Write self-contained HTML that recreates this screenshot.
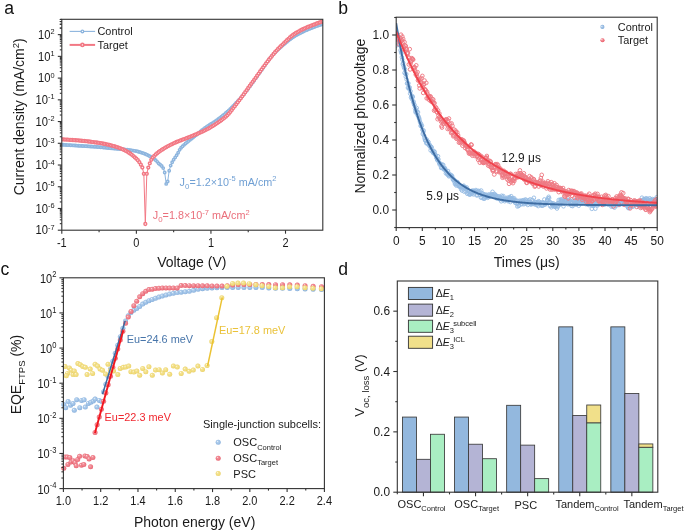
<!DOCTYPE html>
<html><head><meta charset="utf-8"><style>
html,body{margin:0;padding:0;background:#fff;}
svg{display:block;font-family:"Liberation Sans", sans-serif;will-change:transform;filter:blur(0.3px);}
</style></head><body>
<svg width="685" height="530" viewBox="0 0 685 530">
<rect width="685" height="530" fill="#fff"/>
<defs>
<clipPath id="clipA"><rect x="61.8" y="19.3" width="261.0" height="210.89999999999998"/></clipPath>
<clipPath id="clipB"><rect x="396.2" y="17.2" width="261.00000000000006" height="210.4"/></clipPath>
<clipPath id="clipC"><rect x="63.4" y="277.8" width="261.0" height="210.8"/></clipPath>
<clipPath id="clipC2"><rect x="60.4" y="277.8" width="264.0" height="210.8"/></clipPath>
<radialGradient id="gB" cx="0.5" cy="0.5" r="0.55" fx="0.33" fy="0.3"><stop offset="0" stop-color="#F4F8FD"/><stop offset="0.28" stop-color="#B2CFEC"/><stop offset="0.75" stop-color="#98BDE5"/><stop offset="1" stop-color="#7FA8D6"/></radialGradient>
<radialGradient id="gR" cx="0.5" cy="0.5" r="0.55" fx="0.33" fy="0.3"><stop offset="0" stop-color="#FDF0F1"/><stop offset="0.28" stop-color="#F2949D"/><stop offset="0.75" stop-color="#EE7682"/><stop offset="1" stop-color="#E25C69"/></radialGradient>
<radialGradient id="gBb" cx="0.5" cy="0.5" r="0.55" fx="0.3" fy="0.3"><stop offset="0" stop-color="#EEF4FB"/><stop offset="0.4" stop-color="#A6C6E8"/><stop offset="1" stop-color="#7EA8D6"/></radialGradient>
<radialGradient id="gRb" cx="0.5" cy="0.5" r="0.55" fx="0.3" fy="0.3"><stop offset="0" stop-color="#FCE6E8"/><stop offset="0.4" stop-color="#F28C95"/><stop offset="1" stop-color="#E9505D"/></radialGradient>
<radialGradient id="gY" cx="0.5" cy="0.5" r="0.55" fx="0.33" fy="0.3"><stop offset="0" stop-color="#FEFBEA"/><stop offset="0.28" stop-color="#F4E396"/><stop offset="0.75" stop-color="#F0DA78"/><stop offset="1" stop-color="#E5CA58"/></radialGradient>
</defs>
<g clip-path="url(#clipA)">
<path d="M61.8,144.7 L63.29,144.79 L64.78,144.88 L66.27,144.97 L67.77,145.06 L69.26,145.15 L70.75,145.24 L72.24,145.33 L73.73,145.42 L75.22,145.52 L76.71,145.61 L78.21,145.71 L79.7,145.8 L81.19,145.89 L82.68,145.99 L84.17,146.08 L85.66,146.17 L87.15,146.26 L88.65,146.35 L90.14,146.45 L91.63,146.54 L93.12,146.64 L94.61,146.74 L96.1,146.85 L97.59,146.96 L99.08,147.07 L100.58,147.2 L102.07,147.33 L103.56,147.48 L105.05,147.63 L106.54,147.79 L108.03,147.95 L109.52,148.1 L111.02,148.25 L112.51,148.39 L114,148.52 L115.49,148.65 L116.98,148.77 L118.47,148.89 L119.96,149.01 L121.46,149.14 L122.95,149.28 L124.44,149.44 L125.93,149.59 L127.42,149.75 L128.91,149.93 L130.4,150.12 L131.9,150.33 L133.39,150.56 L134.88,150.84 L136.37,151.16 L137.86,151.54 L139.35,151.95 L140.84,152.39 L142.34,152.88 L143.83,153.42 L145.32,154.03 L146.81,154.69 L148.3,155.4 L149.79,156.16 L151.28,156.98 L152.78,157.89 L154.27,158.93 L155.76,160.19 L157.25,161.83 L158.74,163.45 L160.23,164.69 L161.72,166.03 L163.22,168.12 L164.71,172.5 L166.2,183.9 L167.69,181.5 L169.18,170.7 L170.67,165.58 L172.16,162.27 L173.65,159.69 L175.15,157.44 L176.64,155.22 L178.13,152.72 L179.62,149.81 L181.11,147.76 L182.6,146.2 L184.09,144.85 L185.59,143.53 L187.08,142.23 L188.57,141 L190.06,139.8 L191.55,138.64 L193.04,137.49 L194.53,136.32 L196.03,135.14 L197.52,133.92 L199.01,132.69 L200.5,131.46 L201.99,130.25 L203.48,129.06 L204.97,127.92 L206.47,126.84 L207.96,125.84 L209.45,124.89 L210.94,123.97 L212.43,123.06 L213.92,122.13 L215.41,121.15 L216.91,120.11 L218.4,119.02 L219.89,117.89 L221.38,116.73 L222.87,115.53 L224.36,114.3 L225.85,113.02 L227.35,111.7 L228.84,110.32 L230.33,108.88 L231.82,107.39 L233.31,105.87 L234.8,104.32 L236.29,102.75 L237.79,101.18 L239.28,99.6 L240.77,97.97 L242.26,96.27 L243.75,94.46 L245.24,92.58 L246.73,90.63 L248.22,88.63 L249.72,86.61 L251.21,84.58 L252.7,82.54 L254.19,80.47 L255.68,78.37 L257.17,76.24 L258.66,74.11 L260.16,71.99 L261.65,69.9 L263.14,67.84 L264.63,65.73 L266.12,63.61 L267.61,61.51 L269.1,59.47 L270.6,57.52 L272.09,55.7 L273.58,54.03 L275.07,52.45 L276.56,50.95 L278.05,49.51 L279.54,48.13 L281.04,46.8 L282.53,45.49 L284.02,44.21 L285.51,42.95 L287,41.72 L288.49,40.53 L289.98,39.39 L291.48,38.3 L292.97,37.28 L294.46,36.33 L295.95,35.43 L297.44,34.57 L298.93,33.75 L300.42,32.96 L301.92,32.21 L303.41,31.49 L304.9,30.79 L306.39,30.13 L307.88,29.49 L309.37,28.88 L310.86,28.28 L312.36,27.7 L313.85,27.13 L315.34,26.57 L316.83,26.03 L318.32,25.5 L319.81,24.99 L321.3,24.49 L322.8,24" fill="none" stroke="#8DB5DE" stroke-width="1.0"/>
<g fill="#fff" stroke="#8DB5DE" stroke-width="1.45">
<circle cx="61.8" cy="144.7" r="1.2"/>
<circle cx="63.29" cy="144.79" r="1.2"/>
<circle cx="64.78" cy="144.88" r="1.2"/>
<circle cx="66.27" cy="144.97" r="1.2"/>
<circle cx="67.77" cy="145.06" r="1.2"/>
<circle cx="69.26" cy="145.15" r="1.2"/>
<circle cx="70.75" cy="145.24" r="1.2"/>
<circle cx="72.24" cy="145.33" r="1.2"/>
<circle cx="73.73" cy="145.42" r="1.2"/>
<circle cx="75.22" cy="145.52" r="1.2"/>
<circle cx="76.71" cy="145.61" r="1.2"/>
<circle cx="78.21" cy="145.71" r="1.2"/>
<circle cx="79.7" cy="145.8" r="1.2"/>
<circle cx="81.19" cy="145.89" r="1.2"/>
<circle cx="82.68" cy="145.99" r="1.2"/>
<circle cx="84.17" cy="146.08" r="1.2"/>
<circle cx="85.66" cy="146.17" r="1.2"/>
<circle cx="87.15" cy="146.26" r="1.2"/>
<circle cx="88.65" cy="146.35" r="1.2"/>
<circle cx="90.14" cy="146.45" r="1.2"/>
<circle cx="91.63" cy="146.54" r="1.2"/>
<circle cx="93.12" cy="146.64" r="1.2"/>
<circle cx="94.61" cy="146.74" r="1.2"/>
<circle cx="96.1" cy="146.85" r="1.2"/>
<circle cx="97.59" cy="146.96" r="1.2"/>
<circle cx="99.08" cy="147.07" r="1.2"/>
<circle cx="100.58" cy="147.2" r="1.2"/>
<circle cx="102.07" cy="147.33" r="1.2"/>
<circle cx="103.56" cy="147.48" r="1.2"/>
<circle cx="105.05" cy="147.63" r="1.2"/>
<circle cx="106.54" cy="147.79" r="1.2"/>
<circle cx="108.03" cy="147.95" r="1.2"/>
<circle cx="109.52" cy="148.1" r="1.2"/>
<circle cx="111.02" cy="148.25" r="1.2"/>
<circle cx="112.51" cy="148.39" r="1.2"/>
<circle cx="114" cy="148.52" r="1.2"/>
<circle cx="115.49" cy="148.65" r="1.2"/>
<circle cx="116.98" cy="148.77" r="1.2"/>
<circle cx="118.47" cy="148.89" r="1.2"/>
<circle cx="119.96" cy="149.01" r="1.2"/>
<circle cx="121.46" cy="149.14" r="1.2"/>
<circle cx="122.95" cy="149.28" r="1.2"/>
<circle cx="124.44" cy="149.44" r="1.2"/>
<circle cx="125.93" cy="149.59" r="1.2"/>
<circle cx="127.42" cy="149.75" r="1.2"/>
<circle cx="128.91" cy="149.93" r="1.2"/>
<circle cx="130.4" cy="150.12" r="1.2"/>
<circle cx="131.9" cy="150.33" r="1.2"/>
<circle cx="133.39" cy="150.56" r="1.2"/>
<circle cx="134.88" cy="150.84" r="1.2"/>
<circle cx="136.37" cy="151.16" r="1.2"/>
<circle cx="137.86" cy="151.54" r="1.2"/>
<circle cx="139.35" cy="151.95" r="1.2"/>
<circle cx="140.84" cy="152.39" r="1.2"/>
<circle cx="142.34" cy="152.88" r="1.2"/>
<circle cx="143.83" cy="153.42" r="1.2"/>
<circle cx="145.32" cy="154.03" r="1.2"/>
<circle cx="146.81" cy="154.69" r="1.2"/>
<circle cx="148.3" cy="155.4" r="1.2"/>
<circle cx="149.79" cy="156.16" r="1.2"/>
<circle cx="151.28" cy="156.98" r="1.2"/>
<circle cx="152.78" cy="157.89" r="1.2"/>
<circle cx="154.27" cy="158.93" r="1.2"/>
<circle cx="155.76" cy="160.19" r="1.2"/>
<circle cx="157.25" cy="161.83" r="1.2"/>
<circle cx="158.74" cy="163.45" r="1.2"/>
<circle cx="160.23" cy="164.69" r="1.2"/>
<circle cx="161.72" cy="166.03" r="1.2"/>
<circle cx="163.22" cy="168.12" r="1.2"/>
<circle cx="164.71" cy="172.5" r="1.2"/>
<circle cx="166.2" cy="183.9" r="1.2"/>
<circle cx="167.69" cy="181.5" r="1.2"/>
<circle cx="169.18" cy="170.7" r="1.2"/>
<circle cx="170.67" cy="165.58" r="1.2"/>
<circle cx="172.16" cy="162.27" r="1.2"/>
<circle cx="173.65" cy="159.69" r="1.2"/>
<circle cx="175.15" cy="157.44" r="1.2"/>
<circle cx="176.64" cy="155.22" r="1.2"/>
<circle cx="178.13" cy="152.72" r="1.2"/>
<circle cx="179.62" cy="149.81" r="1.2"/>
<circle cx="181.11" cy="147.76" r="1.2"/>
<circle cx="182.6" cy="146.2" r="1.2"/>
<circle cx="184.09" cy="144.85" r="1.2"/>
<circle cx="185.59" cy="143.53" r="1.2"/>
<circle cx="187.08" cy="142.23" r="1.2"/>
<circle cx="188.57" cy="141" r="1.2"/>
<circle cx="190.06" cy="139.8" r="1.2"/>
<circle cx="191.55" cy="138.64" r="1.2"/>
<circle cx="193.04" cy="137.49" r="1.2"/>
<circle cx="194.53" cy="136.32" r="1.2"/>
<circle cx="196.03" cy="135.14" r="1.2"/>
<circle cx="197.52" cy="133.92" r="1.2"/>
<circle cx="199.01" cy="132.69" r="1.2"/>
<circle cx="200.5" cy="131.46" r="1.2"/>
<circle cx="201.99" cy="130.25" r="1.2"/>
<circle cx="203.48" cy="129.06" r="1.2"/>
<circle cx="204.97" cy="127.92" r="1.2"/>
<circle cx="206.47" cy="126.84" r="1.2"/>
<circle cx="207.96" cy="125.84" r="1.2"/>
<circle cx="209.45" cy="124.89" r="1.2"/>
<circle cx="210.94" cy="123.97" r="1.2"/>
<circle cx="212.43" cy="123.06" r="1.2"/>
<circle cx="213.92" cy="122.13" r="1.2"/>
<circle cx="215.41" cy="121.15" r="1.2"/>
<circle cx="216.91" cy="120.11" r="1.2"/>
<circle cx="218.4" cy="119.02" r="1.2"/>
<circle cx="219.89" cy="117.89" r="1.2"/>
<circle cx="221.38" cy="116.73" r="1.2"/>
<circle cx="222.87" cy="115.53" r="1.2"/>
<circle cx="224.36" cy="114.3" r="1.2"/>
<circle cx="225.85" cy="113.02" r="1.2"/>
<circle cx="227.35" cy="111.7" r="1.2"/>
<circle cx="228.84" cy="110.32" r="1.2"/>
<circle cx="230.33" cy="108.88" r="1.2"/>
<circle cx="231.82" cy="107.39" r="1.2"/>
<circle cx="233.31" cy="105.87" r="1.2"/>
<circle cx="234.8" cy="104.32" r="1.2"/>
<circle cx="236.29" cy="102.75" r="1.2"/>
<circle cx="237.79" cy="101.18" r="1.2"/>
<circle cx="239.28" cy="99.6" r="1.2"/>
<circle cx="240.77" cy="97.97" r="1.2"/>
<circle cx="242.26" cy="96.27" r="1.2"/>
<circle cx="243.75" cy="94.46" r="1.2"/>
<circle cx="245.24" cy="92.58" r="1.2"/>
<circle cx="246.73" cy="90.63" r="1.2"/>
<circle cx="248.22" cy="88.63" r="1.2"/>
<circle cx="249.72" cy="86.61" r="1.2"/>
<circle cx="251.21" cy="84.58" r="1.2"/>
<circle cx="252.7" cy="82.54" r="1.2"/>
<circle cx="254.19" cy="80.47" r="1.2"/>
<circle cx="255.68" cy="78.37" r="1.2"/>
<circle cx="257.17" cy="76.24" r="1.2"/>
<circle cx="258.66" cy="74.11" r="1.2"/>
<circle cx="260.16" cy="71.99" r="1.2"/>
<circle cx="261.65" cy="69.9" r="1.2"/>
<circle cx="263.14" cy="67.84" r="1.2"/>
<circle cx="264.63" cy="65.73" r="1.2"/>
<circle cx="266.12" cy="63.61" r="1.2"/>
<circle cx="267.61" cy="61.51" r="1.2"/>
<circle cx="269.1" cy="59.47" r="1.2"/>
<circle cx="270.6" cy="57.52" r="1.2"/>
<circle cx="272.09" cy="55.7" r="1.2"/>
<circle cx="273.58" cy="54.03" r="1.2"/>
<circle cx="275.07" cy="52.45" r="1.2"/>
<circle cx="276.56" cy="50.95" r="1.2"/>
<circle cx="278.05" cy="49.51" r="1.2"/>
<circle cx="279.54" cy="48.13" r="1.2"/>
<circle cx="281.04" cy="46.8" r="1.2"/>
<circle cx="282.53" cy="45.49" r="1.2"/>
<circle cx="284.02" cy="44.21" r="1.2"/>
<circle cx="285.51" cy="42.95" r="1.2"/>
<circle cx="287" cy="41.72" r="1.2"/>
<circle cx="288.49" cy="40.53" r="1.2"/>
<circle cx="289.98" cy="39.39" r="1.2"/>
<circle cx="291.48" cy="38.3" r="1.2"/>
<circle cx="292.97" cy="37.28" r="1.2"/>
<circle cx="294.46" cy="36.33" r="1.2"/>
<circle cx="295.95" cy="35.43" r="1.2"/>
<circle cx="297.44" cy="34.57" r="1.2"/>
<circle cx="298.93" cy="33.75" r="1.2"/>
<circle cx="300.42" cy="32.96" r="1.2"/>
<circle cx="301.92" cy="32.21" r="1.2"/>
<circle cx="303.41" cy="31.49" r="1.2"/>
<circle cx="304.9" cy="30.79" r="1.2"/>
<circle cx="306.39" cy="30.13" r="1.2"/>
<circle cx="307.88" cy="29.49" r="1.2"/>
<circle cx="309.37" cy="28.88" r="1.2"/>
<circle cx="310.86" cy="28.28" r="1.2"/>
<circle cx="312.36" cy="27.7" r="1.2"/>
<circle cx="313.85" cy="27.13" r="1.2"/>
<circle cx="315.34" cy="26.57" r="1.2"/>
<circle cx="316.83" cy="26.03" r="1.2"/>
<circle cx="318.32" cy="25.5" r="1.2"/>
<circle cx="319.81" cy="24.99" r="1.2"/>
<circle cx="321.3" cy="24.49" r="1.2"/>
<circle cx="322.8" cy="24" r="1.2"/>
</g>
<path d="M61.8,139.4 L63.29,139.47 L64.78,139.54 L66.27,139.62 L67.77,139.71 L69.26,139.8 L70.75,139.9 L72.24,140 L73.73,140.11 L75.22,140.23 L76.71,140.35 L78.21,140.47 L79.7,140.6 L81.19,140.73 L82.68,140.87 L84.17,141.02 L85.66,141.18 L87.15,141.34 L88.65,141.52 L90.14,141.7 L91.63,141.88 L93.12,142.08 L94.61,142.29 L96.1,142.5 L97.59,142.72 L99.08,142.95 L100.58,143.19 L102.07,143.45 L103.56,143.73 L105.05,144.02 L106.54,144.33 L108.03,144.67 L109.52,145.02 L111.02,145.39 L112.51,145.78 L114,146.19 L115.49,146.64 L116.98,147.12 L118.47,147.64 L119.96,148.2 L121.46,148.8 L122.95,149.43 L124.44,150.13 L125.93,150.93 L127.42,151.81 L128.91,152.75 L130.4,153.75 L131.9,154.87 L133.39,156.08 L134.88,157.38 L136.37,158.74 L137.86,160.27 L139.35,162.16 L140.84,164.64 L142.34,167.5 L143.83,173.8 L145.32,224 L146.81,173.8 L148.3,167.6 L149.79,163.33 L151.28,159.83 L152.78,157.61 L154.27,155.92 L155.76,154.48 L157.25,153.19 L158.74,152.02 L160.23,150.96 L161.72,149.97 L163.22,149.01 L164.71,148.09 L166.2,147.21 L167.69,146.37 L169.18,145.56 L170.67,144.78 L172.16,144.04 L173.65,143.32 L175.15,142.63 L176.64,141.99 L178.13,141.38 L179.62,140.8 L181.11,140.23 L182.6,139.67 L184.09,139.11 L185.59,138.53 L187.08,137.94 L188.57,137.36 L190.06,136.78 L191.55,136.19 L193.04,135.6 L194.53,134.99 L196.03,134.36 L197.52,133.73 L199.01,133.09 L200.5,132.44 L201.99,131.78 L203.48,131.09 L204.97,130.37 L206.47,129.61 L207.96,128.82 L209.45,127.98 L210.94,127.11 L212.43,126.21 L213.92,125.28 L215.41,124.32 L216.91,123.33 L218.4,122.33 L219.89,121.3 L221.38,120.24 L222.87,119.12 L224.36,117.93 L225.85,116.66 L227.35,115.27 L228.84,113.7 L230.33,111.95 L231.82,110.07 L233.31,108.12 L234.8,106.15 L236.29,104.19 L237.79,102.27 L239.28,100.3 L240.77,98.3 L242.26,96.28 L243.75,94.25 L245.24,92.18 L246.73,90.08 L248.22,87.99 L249.72,85.92 L251.21,83.87 L252.7,81.85 L254.19,79.83 L255.68,77.79 L257.17,75.72 L258.66,73.6 L260.16,71.47 L261.65,69.36 L263.14,67.31 L264.63,65.31 L266.12,63.35 L267.61,61.41 L269.1,59.52 L270.6,57.66 L272.09,55.82 L273.58,54.01 L275.07,52.27 L276.56,50.6 L278.05,49.02 L279.54,47.49 L281.04,46.01 L282.53,44.56 L284.02,43.12 L285.51,41.65 L287,40.2 L288.49,38.78 L289.98,37.42 L291.48,36.16 L292.97,35.01 L294.46,33.98 L295.95,33.02 L297.44,32.13 L298.93,31.28 L300.42,30.48 L301.92,29.72 L303.41,28.99 L304.9,28.29 L306.39,27.62 L307.88,26.99 L309.37,26.38 L310.86,25.79 L312.36,25.21 L313.85,24.64 L315.34,24.07 L316.83,23.51 L318.32,22.96 L319.81,22.43 L321.3,21.91 L322.8,21.4" fill="none" stroke="#F27884" stroke-width="1.0"/>
<g fill="#fff" stroke="#F27884" stroke-width="1.5">
<circle cx="61.8" cy="139.4" r="1.4"/>
<circle cx="63.29" cy="139.47" r="1.4"/>
<circle cx="64.78" cy="139.54" r="1.4"/>
<circle cx="66.27" cy="139.62" r="1.4"/>
<circle cx="67.77" cy="139.71" r="1.4"/>
<circle cx="69.26" cy="139.8" r="1.4"/>
<circle cx="70.75" cy="139.9" r="1.4"/>
<circle cx="72.24" cy="140" r="1.4"/>
<circle cx="73.73" cy="140.11" r="1.4"/>
<circle cx="75.22" cy="140.23" r="1.4"/>
<circle cx="76.71" cy="140.35" r="1.4"/>
<circle cx="78.21" cy="140.47" r="1.4"/>
<circle cx="79.7" cy="140.6" r="1.4"/>
<circle cx="81.19" cy="140.73" r="1.4"/>
<circle cx="82.68" cy="140.87" r="1.4"/>
<circle cx="84.17" cy="141.02" r="1.4"/>
<circle cx="85.66" cy="141.18" r="1.4"/>
<circle cx="87.15" cy="141.34" r="1.4"/>
<circle cx="88.65" cy="141.52" r="1.4"/>
<circle cx="90.14" cy="141.7" r="1.4"/>
<circle cx="91.63" cy="141.88" r="1.4"/>
<circle cx="93.12" cy="142.08" r="1.4"/>
<circle cx="94.61" cy="142.29" r="1.4"/>
<circle cx="96.1" cy="142.5" r="1.4"/>
<circle cx="97.59" cy="142.72" r="1.4"/>
<circle cx="99.08" cy="142.95" r="1.4"/>
<circle cx="100.58" cy="143.19" r="1.4"/>
<circle cx="102.07" cy="143.45" r="1.4"/>
<circle cx="103.56" cy="143.73" r="1.4"/>
<circle cx="105.05" cy="144.02" r="1.4"/>
<circle cx="106.54" cy="144.33" r="1.4"/>
<circle cx="108.03" cy="144.67" r="1.4"/>
<circle cx="109.52" cy="145.02" r="1.4"/>
<circle cx="111.02" cy="145.39" r="1.4"/>
<circle cx="112.51" cy="145.78" r="1.4"/>
<circle cx="114" cy="146.19" r="1.4"/>
<circle cx="115.49" cy="146.64" r="1.4"/>
<circle cx="116.98" cy="147.12" r="1.4"/>
<circle cx="118.47" cy="147.64" r="1.4"/>
<circle cx="119.96" cy="148.2" r="1.4"/>
<circle cx="121.46" cy="148.8" r="1.4"/>
<circle cx="122.95" cy="149.43" r="1.4"/>
<circle cx="124.44" cy="150.13" r="1.4"/>
<circle cx="125.93" cy="150.93" r="1.4"/>
<circle cx="127.42" cy="151.81" r="1.4"/>
<circle cx="128.91" cy="152.75" r="1.4"/>
<circle cx="130.4" cy="153.75" r="1.4"/>
<circle cx="131.9" cy="154.87" r="1.4"/>
<circle cx="133.39" cy="156.08" r="1.4"/>
<circle cx="134.88" cy="157.38" r="1.4"/>
<circle cx="136.37" cy="158.74" r="1.4"/>
<circle cx="137.86" cy="160.27" r="1.4"/>
<circle cx="139.35" cy="162.16" r="1.4"/>
<circle cx="140.84" cy="164.64" r="1.4"/>
<circle cx="142.34" cy="167.5" r="1.4"/>
<circle cx="143.83" cy="173.8" r="1.4"/>
<circle cx="145.32" cy="224" r="1.4"/>
<circle cx="146.81" cy="173.8" r="1.4"/>
<circle cx="148.3" cy="167.6" r="1.4"/>
<circle cx="149.79" cy="163.33" r="1.4"/>
<circle cx="151.28" cy="159.83" r="1.4"/>
<circle cx="152.78" cy="157.61" r="1.4"/>
<circle cx="154.27" cy="155.92" r="1.4"/>
<circle cx="155.76" cy="154.48" r="1.4"/>
<circle cx="157.25" cy="153.19" r="1.4"/>
<circle cx="158.74" cy="152.02" r="1.4"/>
<circle cx="160.23" cy="150.96" r="1.4"/>
<circle cx="161.72" cy="149.97" r="1.4"/>
<circle cx="163.22" cy="149.01" r="1.4"/>
<circle cx="164.71" cy="148.09" r="1.4"/>
<circle cx="166.2" cy="147.21" r="1.4"/>
<circle cx="167.69" cy="146.37" r="1.4"/>
<circle cx="169.18" cy="145.56" r="1.4"/>
<circle cx="170.67" cy="144.78" r="1.4"/>
<circle cx="172.16" cy="144.04" r="1.4"/>
<circle cx="173.65" cy="143.32" r="1.4"/>
<circle cx="175.15" cy="142.63" r="1.4"/>
<circle cx="176.64" cy="141.99" r="1.4"/>
<circle cx="178.13" cy="141.38" r="1.4"/>
<circle cx="179.62" cy="140.8" r="1.4"/>
<circle cx="181.11" cy="140.23" r="1.4"/>
<circle cx="182.6" cy="139.67" r="1.4"/>
<circle cx="184.09" cy="139.11" r="1.4"/>
<circle cx="185.59" cy="138.53" r="1.4"/>
<circle cx="187.08" cy="137.94" r="1.4"/>
<circle cx="188.57" cy="137.36" r="1.4"/>
<circle cx="190.06" cy="136.78" r="1.4"/>
<circle cx="191.55" cy="136.19" r="1.4"/>
<circle cx="193.04" cy="135.6" r="1.4"/>
<circle cx="194.53" cy="134.99" r="1.4"/>
<circle cx="196.03" cy="134.36" r="1.4"/>
<circle cx="197.52" cy="133.73" r="1.4"/>
<circle cx="199.01" cy="133.09" r="1.4"/>
<circle cx="200.5" cy="132.44" r="1.4"/>
<circle cx="201.99" cy="131.78" r="1.4"/>
<circle cx="203.48" cy="131.09" r="1.4"/>
<circle cx="204.97" cy="130.37" r="1.4"/>
<circle cx="206.47" cy="129.61" r="1.4"/>
<circle cx="207.96" cy="128.82" r="1.4"/>
<circle cx="209.45" cy="127.98" r="1.4"/>
<circle cx="210.94" cy="127.11" r="1.4"/>
<circle cx="212.43" cy="126.21" r="1.4"/>
<circle cx="213.92" cy="125.28" r="1.4"/>
<circle cx="215.41" cy="124.32" r="1.4"/>
<circle cx="216.91" cy="123.33" r="1.4"/>
<circle cx="218.4" cy="122.33" r="1.4"/>
<circle cx="219.89" cy="121.3" r="1.4"/>
<circle cx="221.38" cy="120.24" r="1.4"/>
<circle cx="222.87" cy="119.12" r="1.4"/>
<circle cx="224.36" cy="117.93" r="1.4"/>
<circle cx="225.85" cy="116.66" r="1.4"/>
<circle cx="227.35" cy="115.27" r="1.4"/>
<circle cx="228.84" cy="113.7" r="1.4"/>
<circle cx="230.33" cy="111.95" r="1.4"/>
<circle cx="231.82" cy="110.07" r="1.4"/>
<circle cx="233.31" cy="108.12" r="1.4"/>
<circle cx="234.8" cy="106.15" r="1.4"/>
<circle cx="236.29" cy="104.19" r="1.4"/>
<circle cx="237.79" cy="102.27" r="1.4"/>
<circle cx="239.28" cy="100.3" r="1.4"/>
<circle cx="240.77" cy="98.3" r="1.4"/>
<circle cx="242.26" cy="96.28" r="1.4"/>
<circle cx="243.75" cy="94.25" r="1.4"/>
<circle cx="245.24" cy="92.18" r="1.4"/>
<circle cx="246.73" cy="90.08" r="1.4"/>
<circle cx="248.22" cy="87.99" r="1.4"/>
<circle cx="249.72" cy="85.92" r="1.4"/>
<circle cx="251.21" cy="83.87" r="1.4"/>
<circle cx="252.7" cy="81.85" r="1.4"/>
<circle cx="254.19" cy="79.83" r="1.4"/>
<circle cx="255.68" cy="77.79" r="1.4"/>
<circle cx="257.17" cy="75.72" r="1.4"/>
<circle cx="258.66" cy="73.6" r="1.4"/>
<circle cx="260.16" cy="71.47" r="1.4"/>
<circle cx="261.65" cy="69.36" r="1.4"/>
<circle cx="263.14" cy="67.31" r="1.4"/>
<circle cx="264.63" cy="65.31" r="1.4"/>
<circle cx="266.12" cy="63.35" r="1.4"/>
<circle cx="267.61" cy="61.41" r="1.4"/>
<circle cx="269.1" cy="59.52" r="1.4"/>
<circle cx="270.6" cy="57.66" r="1.4"/>
<circle cx="272.09" cy="55.82" r="1.4"/>
<circle cx="273.58" cy="54.01" r="1.4"/>
<circle cx="275.07" cy="52.27" r="1.4"/>
<circle cx="276.56" cy="50.6" r="1.4"/>
<circle cx="278.05" cy="49.02" r="1.4"/>
<circle cx="279.54" cy="47.49" r="1.4"/>
<circle cx="281.04" cy="46.01" r="1.4"/>
<circle cx="282.53" cy="44.56" r="1.4"/>
<circle cx="284.02" cy="43.12" r="1.4"/>
<circle cx="285.51" cy="41.65" r="1.4"/>
<circle cx="287" cy="40.2" r="1.4"/>
<circle cx="288.49" cy="38.78" r="1.4"/>
<circle cx="289.98" cy="37.42" r="1.4"/>
<circle cx="291.48" cy="36.16" r="1.4"/>
<circle cx="292.97" cy="35.01" r="1.4"/>
<circle cx="294.46" cy="33.98" r="1.4"/>
<circle cx="295.95" cy="33.02" r="1.4"/>
<circle cx="297.44" cy="32.13" r="1.4"/>
<circle cx="298.93" cy="31.28" r="1.4"/>
<circle cx="300.42" cy="30.48" r="1.4"/>
<circle cx="301.92" cy="29.72" r="1.4"/>
<circle cx="303.41" cy="28.99" r="1.4"/>
<circle cx="304.9" cy="28.29" r="1.4"/>
<circle cx="306.39" cy="27.62" r="1.4"/>
<circle cx="307.88" cy="26.99" r="1.4"/>
<circle cx="309.37" cy="26.38" r="1.4"/>
<circle cx="310.86" cy="25.79" r="1.4"/>
<circle cx="312.36" cy="25.21" r="1.4"/>
<circle cx="313.85" cy="24.64" r="1.4"/>
<circle cx="315.34" cy="24.07" r="1.4"/>
<circle cx="316.83" cy="23.51" r="1.4"/>
<circle cx="318.32" cy="22.96" r="1.4"/>
<circle cx="319.81" cy="22.43" r="1.4"/>
<circle cx="321.3" cy="21.91" r="1.4"/>
<circle cx="322.8" cy="21.4" r="1.4"/>
</g>
</g>
<rect x="61.8" y="19.3" width="261" height="210.9" fill="none" stroke="#333" stroke-width="1.1"/>
<line x1="57.8" y1="230.2" x2="61.8" y2="230.2" stroke="#333" stroke-width="1.1"/>
<text transform="translate(54.6,234.35) scale(1,1.08)" font-size="11.2" text-anchor="end" fill="#1a1a1a" >10<tspan font-size="7.4" dy="-4.3">-7</tspan></text>
<line x1="59.8" y1="223.66" x2="61.8" y2="223.66" stroke="#333" stroke-width="1.1"/>
<line x1="59.8" y1="219.83" x2="61.8" y2="219.83" stroke="#333" stroke-width="1.1"/>
<line x1="59.8" y1="217.12" x2="61.8" y2="217.12" stroke="#333" stroke-width="1.1"/>
<line x1="59.8" y1="215.01" x2="61.8" y2="215.01" stroke="#333" stroke-width="1.1"/>
<line x1="59.8" y1="213.29" x2="61.8" y2="213.29" stroke="#333" stroke-width="1.1"/>
<line x1="59.8" y1="211.84" x2="61.8" y2="211.84" stroke="#333" stroke-width="1.1"/>
<line x1="59.8" y1="210.58" x2="61.8" y2="210.58" stroke="#333" stroke-width="1.1"/>
<line x1="59.8" y1="209.46" x2="61.8" y2="209.46" stroke="#333" stroke-width="1.1"/>
<line x1="57.8" y1="208.47" x2="61.8" y2="208.47" stroke="#333" stroke-width="1.1"/>
<text transform="translate(54.6,212.62) scale(1,1.08)" font-size="11.2" text-anchor="end" fill="#1a1a1a" >10<tspan font-size="7.4" dy="-4.3">-6</tspan></text>
<line x1="59.8" y1="201.93" x2="61.8" y2="201.93" stroke="#333" stroke-width="1.1"/>
<line x1="59.8" y1="198.1" x2="61.8" y2="198.1" stroke="#333" stroke-width="1.1"/>
<line x1="59.8" y1="195.39" x2="61.8" y2="195.39" stroke="#333" stroke-width="1.1"/>
<line x1="59.8" y1="193.28" x2="61.8" y2="193.28" stroke="#333" stroke-width="1.1"/>
<line x1="59.8" y1="191.56" x2="61.8" y2="191.56" stroke="#333" stroke-width="1.1"/>
<line x1="59.8" y1="190.11" x2="61.8" y2="190.11" stroke="#333" stroke-width="1.1"/>
<line x1="59.8" y1="188.85" x2="61.8" y2="188.85" stroke="#333" stroke-width="1.1"/>
<line x1="59.8" y1="187.73" x2="61.8" y2="187.73" stroke="#333" stroke-width="1.1"/>
<line x1="57.8" y1="186.74" x2="61.8" y2="186.74" stroke="#333" stroke-width="1.1"/>
<text transform="translate(54.6,190.89) scale(1,1.08)" font-size="11.2" text-anchor="end" fill="#1a1a1a" >10<tspan font-size="7.4" dy="-4.3">-5</tspan></text>
<line x1="59.8" y1="180.2" x2="61.8" y2="180.2" stroke="#333" stroke-width="1.1"/>
<line x1="59.8" y1="176.37" x2="61.8" y2="176.37" stroke="#333" stroke-width="1.1"/>
<line x1="59.8" y1="173.66" x2="61.8" y2="173.66" stroke="#333" stroke-width="1.1"/>
<line x1="59.8" y1="171.55" x2="61.8" y2="171.55" stroke="#333" stroke-width="1.1"/>
<line x1="59.8" y1="169.83" x2="61.8" y2="169.83" stroke="#333" stroke-width="1.1"/>
<line x1="59.8" y1="168.38" x2="61.8" y2="168.38" stroke="#333" stroke-width="1.1"/>
<line x1="59.8" y1="167.12" x2="61.8" y2="167.12" stroke="#333" stroke-width="1.1"/>
<line x1="59.8" y1="166" x2="61.8" y2="166" stroke="#333" stroke-width="1.1"/>
<line x1="57.8" y1="165.01" x2="61.8" y2="165.01" stroke="#333" stroke-width="1.1"/>
<text transform="translate(54.6,169.16) scale(1,1.08)" font-size="11.2" text-anchor="end" fill="#1a1a1a" >10<tspan font-size="7.4" dy="-4.3">-4</tspan></text>
<line x1="59.8" y1="158.47" x2="61.8" y2="158.47" stroke="#333" stroke-width="1.1"/>
<line x1="59.8" y1="154.64" x2="61.8" y2="154.64" stroke="#333" stroke-width="1.1"/>
<line x1="59.8" y1="151.93" x2="61.8" y2="151.93" stroke="#333" stroke-width="1.1"/>
<line x1="59.8" y1="149.82" x2="61.8" y2="149.82" stroke="#333" stroke-width="1.1"/>
<line x1="59.8" y1="148.1" x2="61.8" y2="148.1" stroke="#333" stroke-width="1.1"/>
<line x1="59.8" y1="146.65" x2="61.8" y2="146.65" stroke="#333" stroke-width="1.1"/>
<line x1="59.8" y1="145.39" x2="61.8" y2="145.39" stroke="#333" stroke-width="1.1"/>
<line x1="59.8" y1="144.27" x2="61.8" y2="144.27" stroke="#333" stroke-width="1.1"/>
<line x1="57.8" y1="143.28" x2="61.8" y2="143.28" stroke="#333" stroke-width="1.1"/>
<text transform="translate(54.6,147.43) scale(1,1.08)" font-size="11.2" text-anchor="end" fill="#1a1a1a" >10<tspan font-size="7.4" dy="-4.3">-3</tspan></text>
<line x1="59.8" y1="136.74" x2="61.8" y2="136.74" stroke="#333" stroke-width="1.1"/>
<line x1="59.8" y1="132.91" x2="61.8" y2="132.91" stroke="#333" stroke-width="1.1"/>
<line x1="59.8" y1="130.2" x2="61.8" y2="130.2" stroke="#333" stroke-width="1.1"/>
<line x1="59.8" y1="128.09" x2="61.8" y2="128.09" stroke="#333" stroke-width="1.1"/>
<line x1="59.8" y1="126.37" x2="61.8" y2="126.37" stroke="#333" stroke-width="1.1"/>
<line x1="59.8" y1="124.92" x2="61.8" y2="124.92" stroke="#333" stroke-width="1.1"/>
<line x1="59.8" y1="123.66" x2="61.8" y2="123.66" stroke="#333" stroke-width="1.1"/>
<line x1="59.8" y1="122.54" x2="61.8" y2="122.54" stroke="#333" stroke-width="1.1"/>
<line x1="57.8" y1="121.55" x2="61.8" y2="121.55" stroke="#333" stroke-width="1.1"/>
<text transform="translate(54.6,125.7) scale(1,1.08)" font-size="11.2" text-anchor="end" fill="#1a1a1a" >10<tspan font-size="7.4" dy="-4.3">-2</tspan></text>
<line x1="59.8" y1="115.01" x2="61.8" y2="115.01" stroke="#333" stroke-width="1.1"/>
<line x1="59.8" y1="111.18" x2="61.8" y2="111.18" stroke="#333" stroke-width="1.1"/>
<line x1="59.8" y1="108.47" x2="61.8" y2="108.47" stroke="#333" stroke-width="1.1"/>
<line x1="59.8" y1="106.36" x2="61.8" y2="106.36" stroke="#333" stroke-width="1.1"/>
<line x1="59.8" y1="104.64" x2="61.8" y2="104.64" stroke="#333" stroke-width="1.1"/>
<line x1="59.8" y1="103.19" x2="61.8" y2="103.19" stroke="#333" stroke-width="1.1"/>
<line x1="59.8" y1="101.93" x2="61.8" y2="101.93" stroke="#333" stroke-width="1.1"/>
<line x1="59.8" y1="100.81" x2="61.8" y2="100.81" stroke="#333" stroke-width="1.1"/>
<line x1="57.8" y1="99.82" x2="61.8" y2="99.82" stroke="#333" stroke-width="1.1"/>
<text transform="translate(54.6,103.97) scale(1,1.08)" font-size="11.2" text-anchor="end" fill="#1a1a1a" >10<tspan font-size="7.4" dy="-4.3">-1</tspan></text>
<line x1="59.8" y1="93.28" x2="61.8" y2="93.28" stroke="#333" stroke-width="1.1"/>
<line x1="59.8" y1="89.45" x2="61.8" y2="89.45" stroke="#333" stroke-width="1.1"/>
<line x1="59.8" y1="86.74" x2="61.8" y2="86.74" stroke="#333" stroke-width="1.1"/>
<line x1="59.8" y1="84.63" x2="61.8" y2="84.63" stroke="#333" stroke-width="1.1"/>
<line x1="59.8" y1="82.91" x2="61.8" y2="82.91" stroke="#333" stroke-width="1.1"/>
<line x1="59.8" y1="81.46" x2="61.8" y2="81.46" stroke="#333" stroke-width="1.1"/>
<line x1="59.8" y1="80.2" x2="61.8" y2="80.2" stroke="#333" stroke-width="1.1"/>
<line x1="59.8" y1="79.08" x2="61.8" y2="79.08" stroke="#333" stroke-width="1.1"/>
<line x1="57.8" y1="78.09" x2="61.8" y2="78.09" stroke="#333" stroke-width="1.1"/>
<text transform="translate(54.6,82.24) scale(1,1.08)" font-size="11.2" text-anchor="end" fill="#1a1a1a" >10<tspan font-size="7.4" dy="-4.3">0</tspan></text>
<line x1="59.8" y1="71.55" x2="61.8" y2="71.55" stroke="#333" stroke-width="1.1"/>
<line x1="59.8" y1="67.72" x2="61.8" y2="67.72" stroke="#333" stroke-width="1.1"/>
<line x1="59.8" y1="65.01" x2="61.8" y2="65.01" stroke="#333" stroke-width="1.1"/>
<line x1="59.8" y1="62.9" x2="61.8" y2="62.9" stroke="#333" stroke-width="1.1"/>
<line x1="59.8" y1="61.18" x2="61.8" y2="61.18" stroke="#333" stroke-width="1.1"/>
<line x1="59.8" y1="59.73" x2="61.8" y2="59.73" stroke="#333" stroke-width="1.1"/>
<line x1="59.8" y1="58.47" x2="61.8" y2="58.47" stroke="#333" stroke-width="1.1"/>
<line x1="59.8" y1="57.35" x2="61.8" y2="57.35" stroke="#333" stroke-width="1.1"/>
<line x1="57.8" y1="56.36" x2="61.8" y2="56.36" stroke="#333" stroke-width="1.1"/>
<text transform="translate(54.6,60.51) scale(1,1.08)" font-size="11.2" text-anchor="end" fill="#1a1a1a" >10<tspan font-size="7.4" dy="-4.3">1</tspan></text>
<line x1="59.8" y1="49.82" x2="61.8" y2="49.82" stroke="#333" stroke-width="1.1"/>
<line x1="59.8" y1="45.99" x2="61.8" y2="45.99" stroke="#333" stroke-width="1.1"/>
<line x1="59.8" y1="43.28" x2="61.8" y2="43.28" stroke="#333" stroke-width="1.1"/>
<line x1="59.8" y1="41.17" x2="61.8" y2="41.17" stroke="#333" stroke-width="1.1"/>
<line x1="59.8" y1="39.45" x2="61.8" y2="39.45" stroke="#333" stroke-width="1.1"/>
<line x1="59.8" y1="38" x2="61.8" y2="38" stroke="#333" stroke-width="1.1"/>
<line x1="59.8" y1="36.74" x2="61.8" y2="36.74" stroke="#333" stroke-width="1.1"/>
<line x1="59.8" y1="35.62" x2="61.8" y2="35.62" stroke="#333" stroke-width="1.1"/>
<line x1="57.8" y1="34.63" x2="61.8" y2="34.63" stroke="#333" stroke-width="1.1"/>
<text transform="translate(54.6,38.78) scale(1,1.08)" font-size="11.2" text-anchor="end" fill="#1a1a1a" >10<tspan font-size="7.4" dy="-4.3">2</tspan></text>
<line x1="59.8" y1="28.09" x2="61.8" y2="28.09" stroke="#333" stroke-width="1.1"/>
<line x1="59.8" y1="24.26" x2="61.8" y2="24.26" stroke="#333" stroke-width="1.1"/>
<line x1="59.8" y1="21.55" x2="61.8" y2="21.55" stroke="#333" stroke-width="1.1"/>
<line x1="59.8" y1="19.44" x2="61.8" y2="19.44" stroke="#333" stroke-width="1.1"/>
<line x1="59.8" y1="28.09" x2="61.8" y2="28.09" stroke="#333" stroke-width="1.1"/>
<line x1="59.8" y1="24.26" x2="61.8" y2="24.26" stroke="#333" stroke-width="1.1"/>
<line x1="59.8" y1="21.55" x2="61.8" y2="21.55" stroke="#333" stroke-width="1.1"/>
<line x1="59.8" y1="19.44" x2="61.8" y2="19.44" stroke="#333" stroke-width="1.1"/>
<line x1="61.8" y1="230.2" x2="61.8" y2="233.7" stroke="#333" stroke-width="1.1"/>
<text transform="translate(61.8,247.05) scale(1,1.08)" font-size="11" text-anchor="middle" fill="#1a1a1a" >-1</text>
<line x1="136.37" y1="230.2" x2="136.37" y2="233.7" stroke="#333" stroke-width="1.1"/>
<text transform="translate(136.37,247.05) scale(1,1.08)" font-size="11" text-anchor="middle" fill="#1a1a1a" >0</text>
<line x1="210.94" y1="230.2" x2="210.94" y2="233.7" stroke="#333" stroke-width="1.1"/>
<text transform="translate(210.94,247.05) scale(1,1.08)" font-size="11" text-anchor="middle" fill="#1a1a1a" >1</text>
<line x1="285.51" y1="230.2" x2="285.51" y2="233.7" stroke="#333" stroke-width="1.1"/>
<text transform="translate(285.51,247.05) scale(1,1.08)" font-size="11" text-anchor="middle" fill="#1a1a1a" >2</text>
<line x1="99.08" y1="230.2" x2="99.08" y2="232.2" stroke="#333" stroke-width="1.1"/>
<line x1="173.65" y1="230.2" x2="173.65" y2="232.2" stroke="#333" stroke-width="1.1"/>
<line x1="248.22" y1="230.2" x2="248.22" y2="232.2" stroke="#333" stroke-width="1.1"/>
<text x="191.8" y="267.2" font-size="14" text-anchor="middle" fill="#1a1a1a" >Voltage (V)</text>
<text transform="translate(24.3,116.8) rotate(-90)" font-size="14" text-anchor="middle" fill="#1a1a1a">Current density (mA/cm<tspan font-size="9.5" dy="-5.5">2</tspan><tspan dy="5.5">)</tspan></text>
<line x1="69.6" y1="31.4" x2="95.1" y2="31.4" stroke="#8DB5DE" stroke-width="1.1"/>
<circle cx="82.4" cy="31.4" r="1.3" fill="#fff" stroke="#8DB5DE" stroke-width="1.4"/>
<line x1="69.6" y1="44.9" x2="95.1" y2="44.9" stroke="#F27884" stroke-width="2"/>
<circle cx="82.4" cy="44.9" r="1.5" fill="#fff" stroke="#F27884" stroke-width="1.6"/>
<text x="97.5" y="35.3" font-size="10.9" text-anchor="start" fill="#1a1a1a" >Control</text>
<text x="97.5" y="48.8" font-size="10.9" text-anchor="start" fill="#1a1a1a" >Target</text>
<text x="179.6" y="185.6" font-size="10.8" text-anchor="start" fill="#6F9FD3" >J<tspan font-size="7.9" dy="3">0</tspan><tspan dy="-3">=1.2×10</tspan><tspan font-size="7.5" dy="-4.5">-5</tspan><tspan dy="4.5"> mA/cm</tspan><tspan font-size="7.5" dy="-4.5">2</tspan></text>
<text x="152.8" y="219.2" font-size="10.8" text-anchor="start" fill="#EA6F7B" >J<tspan font-size="7.9" dy="3">0</tspan><tspan dy="-3">=1.8×10</tspan><tspan font-size="7.5" dy="-4.5">-7</tspan><tspan dy="4.5"> mA/cm</tspan><tspan font-size="7.5" dy="-4.5">2</tspan></text>
<g clip-path="url(#clipB)">
<g fill="none" stroke="#95BBE3" stroke-width="0.9">
<circle cx="396.2" cy="45.63" r="1.8"/>
<circle cx="396.64" cy="39.2" r="1.8"/>
<circle cx="397.07" cy="36.92" r="1.8"/>
<circle cx="397.51" cy="38.89" r="1.8"/>
<circle cx="397.94" cy="40.89" r="1.8"/>
<circle cx="398.38" cy="36.76" r="1.8"/>
<circle cx="398.81" cy="39.19" r="1.8"/>
<circle cx="399.25" cy="44.74" r="1.8"/>
<circle cx="399.69" cy="42.38" r="1.8"/>
<circle cx="400.12" cy="45.62" r="1.8"/>
<circle cx="400.56" cy="50.28" r="1.8"/>
<circle cx="400.99" cy="52.02" r="1.8"/>
<circle cx="401.43" cy="53.35" r="1.8"/>
<circle cx="401.86" cy="57.17" r="1.8"/>
<circle cx="402.3" cy="59.57" r="1.8"/>
<circle cx="402.74" cy="64.06" r="1.8"/>
<circle cx="403.17" cy="62.84" r="1.8"/>
<circle cx="403.61" cy="65.8" r="1.8"/>
<circle cx="404.04" cy="67.68" r="1.8"/>
<circle cx="404.48" cy="72.89" r="1.8"/>
<circle cx="404.91" cy="69.33" r="1.8"/>
<circle cx="405.35" cy="73.86" r="1.8"/>
<circle cx="405.79" cy="76.66" r="1.8"/>
<circle cx="406.22" cy="74.19" r="1.8"/>
<circle cx="406.66" cy="79.49" r="1.8"/>
<circle cx="407.09" cy="83.53" r="1.8"/>
<circle cx="407.53" cy="83.19" r="1.8"/>
<circle cx="407.96" cy="87.9" r="1.8"/>
<circle cx="408.4" cy="83.41" r="1.8"/>
<circle cx="408.84" cy="87.31" r="1.8"/>
<circle cx="409.27" cy="89.22" r="1.8"/>
<circle cx="409.71" cy="87.42" r="1.8"/>
<circle cx="410.14" cy="93.63" r="1.8"/>
<circle cx="410.58" cy="91.31" r="1.8"/>
<circle cx="411.01" cy="97.42" r="1.8"/>
<circle cx="411.45" cy="96.56" r="1.8"/>
<circle cx="411.89" cy="99.12" r="1.8"/>
<circle cx="412.32" cy="96.05" r="1.8"/>
<circle cx="412.76" cy="97.07" r="1.8"/>
<circle cx="413.19" cy="102.23" r="1.8"/>
<circle cx="413.63" cy="101.61" r="1.8"/>
<circle cx="414.06" cy="104.77" r="1.8"/>
<circle cx="414.5" cy="104.78" r="1.8"/>
<circle cx="414.94" cy="108.37" r="1.8"/>
<circle cx="415.37" cy="111.28" r="1.8"/>
<circle cx="415.81" cy="112.67" r="1.8"/>
<circle cx="416.24" cy="110.05" r="1.8"/>
<circle cx="416.68" cy="107.97" r="1.8"/>
<circle cx="417.11" cy="112.62" r="1.8"/>
<circle cx="417.55" cy="115.19" r="1.8"/>
<circle cx="417.99" cy="112.11" r="1.8"/>
<circle cx="418.42" cy="116.25" r="1.8"/>
<circle cx="418.86" cy="117.73" r="1.8"/>
<circle cx="419.29" cy="118.75" r="1.8"/>
<circle cx="419.73" cy="120.75" r="1.8"/>
<circle cx="420.16" cy="122.43" r="1.8"/>
<circle cx="420.6" cy="125.81" r="1.8"/>
<circle cx="421.04" cy="123.85" r="1.8"/>
<circle cx="421.47" cy="126.36" r="1.8"/>
<circle cx="421.91" cy="125.57" r="1.8"/>
<circle cx="422.34" cy="129.77" r="1.8"/>
<circle cx="422.78" cy="133.94" r="1.8"/>
<circle cx="423.22" cy="132.24" r="1.8"/>
<circle cx="423.65" cy="130.54" r="1.8"/>
<circle cx="424.09" cy="135.62" r="1.8"/>
<circle cx="424.52" cy="137.9" r="1.8"/>
<circle cx="424.96" cy="139.77" r="1.8"/>
<circle cx="425.39" cy="140.77" r="1.8"/>
<circle cx="425.83" cy="140.62" r="1.8"/>
<circle cx="426.27" cy="143.2" r="1.8"/>
<circle cx="426.7" cy="139.43" r="1.8"/>
<circle cx="427.14" cy="143.34" r="1.8"/>
<circle cx="427.57" cy="143.33" r="1.8"/>
<circle cx="428.01" cy="141.6" r="1.8"/>
<circle cx="428.44" cy="142.01" r="1.8"/>
<circle cx="428.88" cy="145.51" r="1.8"/>
<circle cx="429.32" cy="145.04" r="1.8"/>
<circle cx="429.75" cy="144.84" r="1.8"/>
<circle cx="430.19" cy="147.01" r="1.8"/>
<circle cx="430.62" cy="150.38" r="1.8"/>
<circle cx="431.06" cy="146.77" r="1.8"/>
<circle cx="431.49" cy="147.07" r="1.8"/>
<circle cx="431.93" cy="148.67" r="1.8"/>
<circle cx="432.37" cy="151.83" r="1.8"/>
<circle cx="432.8" cy="151.39" r="1.8"/>
<circle cx="433.24" cy="152.95" r="1.8"/>
<circle cx="433.67" cy="153.3" r="1.8"/>
<circle cx="434.11" cy="151.35" r="1.8"/>
<circle cx="434.54" cy="151.77" r="1.8"/>
<circle cx="434.98" cy="154.07" r="1.8"/>
<circle cx="435.42" cy="155.04" r="1.8"/>
<circle cx="435.85" cy="155.54" r="1.8"/>
<circle cx="436.29" cy="157.45" r="1.8"/>
<circle cx="436.72" cy="158.25" r="1.8"/>
<circle cx="437.16" cy="159.98" r="1.8"/>
<circle cx="437.59" cy="159.6" r="1.8"/>
<circle cx="438.03" cy="156.27" r="1.8"/>
<circle cx="438.47" cy="159.44" r="1.8"/>
<circle cx="438.9" cy="162.33" r="1.8"/>
<circle cx="439.34" cy="163.33" r="1.8"/>
<circle cx="439.77" cy="164.78" r="1.8"/>
<circle cx="440.21" cy="163.37" r="1.8"/>
<circle cx="440.64" cy="164.05" r="1.8"/>
<circle cx="441.08" cy="167.93" r="1.8"/>
<circle cx="441.52" cy="165.17" r="1.8"/>
<circle cx="441.95" cy="167.57" r="1.8"/>
<circle cx="442.39" cy="164.58" r="1.8"/>
<circle cx="442.82" cy="167.27" r="1.8"/>
<circle cx="443.26" cy="164.99" r="1.8"/>
<circle cx="443.69" cy="169.26" r="1.8"/>
<circle cx="444.13" cy="169.43" r="1.8"/>
<circle cx="444.57" cy="168.92" r="1.8"/>
<circle cx="445" cy="168.15" r="1.8"/>
<circle cx="445.44" cy="169.6" r="1.8"/>
<circle cx="445.87" cy="173.37" r="1.8"/>
<circle cx="446.31" cy="171.53" r="1.8"/>
<circle cx="446.74" cy="172.44" r="1.8"/>
<circle cx="447.18" cy="173.83" r="1.8"/>
<circle cx="447.62" cy="174.76" r="1.8"/>
<circle cx="448.05" cy="171.05" r="1.8"/>
<circle cx="448.49" cy="175.22" r="1.8"/>
<circle cx="448.92" cy="176.38" r="1.8"/>
<circle cx="449.36" cy="174.11" r="1.8"/>
<circle cx="449.79" cy="175.31" r="1.8"/>
<circle cx="450.23" cy="175.97" r="1.8"/>
<circle cx="450.67" cy="174.8" r="1.8"/>
<circle cx="451.1" cy="175.68" r="1.8"/>
<circle cx="451.54" cy="176.31" r="1.8"/>
<circle cx="451.97" cy="175.7" r="1.8"/>
<circle cx="452.41" cy="177.39" r="1.8"/>
<circle cx="452.84" cy="179.48" r="1.8"/>
<circle cx="453.28" cy="179.56" r="1.8"/>
<circle cx="453.72" cy="180.37" r="1.8"/>
<circle cx="454.15" cy="179.61" r="1.8"/>
<circle cx="454.59" cy="182.36" r="1.8"/>
<circle cx="455.02" cy="184.14" r="1.8"/>
<circle cx="455.46" cy="181.22" r="1.8"/>
<circle cx="455.89" cy="184.11" r="1.8"/>
<circle cx="456.33" cy="185.57" r="1.8"/>
<circle cx="456.77" cy="181.86" r="1.8"/>
<circle cx="457.2" cy="184.1" r="1.8"/>
<circle cx="457.64" cy="182.33" r="1.8"/>
<circle cx="458.07" cy="184.47" r="1.8"/>
<circle cx="458.51" cy="185.86" r="1.8"/>
<circle cx="458.94" cy="186.45" r="1.8"/>
<circle cx="459.38" cy="185.57" r="1.8"/>
<circle cx="459.82" cy="185.58" r="1.8"/>
<circle cx="460.25" cy="187" r="1.8"/>
<circle cx="460.69" cy="186.53" r="1.8"/>
<circle cx="461.12" cy="189.2" r="1.8"/>
<circle cx="461.56" cy="186.96" r="1.8"/>
<circle cx="461.99" cy="190.57" r="1.8"/>
<circle cx="462.43" cy="188.17" r="1.8"/>
<circle cx="462.87" cy="186.96" r="1.8"/>
<circle cx="463.3" cy="186.56" r="1.8"/>
<circle cx="463.74" cy="185.71" r="1.8"/>
<circle cx="464.17" cy="191.65" r="1.8"/>
<circle cx="464.61" cy="187.8" r="1.8"/>
<circle cx="465.04" cy="187.24" r="1.8"/>
<circle cx="465.48" cy="187.9" r="1.8"/>
<circle cx="465.92" cy="191.56" r="1.8"/>
<circle cx="466.35" cy="189.58" r="1.8"/>
<circle cx="466.79" cy="187.46" r="1.8"/>
<circle cx="467.22" cy="193.78" r="1.8"/>
<circle cx="467.66" cy="190.76" r="1.8"/>
<circle cx="468.09" cy="190.04" r="1.8"/>
<circle cx="468.53" cy="193.55" r="1.8"/>
<circle cx="468.97" cy="191.57" r="1.8"/>
<circle cx="469.4" cy="194.64" r="1.8"/>
<circle cx="469.84" cy="194.27" r="1.8"/>
<circle cx="470.27" cy="194.29" r="1.8"/>
<circle cx="470.71" cy="192.46" r="1.8"/>
<circle cx="471.14" cy="192.86" r="1.8"/>
<circle cx="471.58" cy="190.9" r="1.8"/>
<circle cx="472.02" cy="194.09" r="1.8"/>
<circle cx="472.45" cy="192.55" r="1.8"/>
<circle cx="472.89" cy="190.54" r="1.8"/>
<circle cx="473.32" cy="191.17" r="1.8"/>
<circle cx="473.76" cy="194.43" r="1.8"/>
<circle cx="474.19" cy="190.93" r="1.8"/>
<circle cx="474.63" cy="192.93" r="1.8"/>
<circle cx="475.07" cy="191.43" r="1.8"/>
<circle cx="475.5" cy="191.6" r="1.8"/>
<circle cx="475.94" cy="190.03" r="1.8"/>
<circle cx="476.37" cy="192.02" r="1.8"/>
<circle cx="476.81" cy="195.54" r="1.8"/>
<circle cx="477.25" cy="194.78" r="1.8"/>
<circle cx="477.68" cy="191.22" r="1.8"/>
<circle cx="478.12" cy="193.08" r="1.8"/>
<circle cx="478.55" cy="190.79" r="1.8"/>
<circle cx="478.99" cy="192.47" r="1.8"/>
<circle cx="479.42" cy="194.45" r="1.8"/>
<circle cx="479.86" cy="191.46" r="1.8"/>
<circle cx="480.3" cy="195" r="1.8"/>
<circle cx="480.73" cy="197.44" r="1.8"/>
<circle cx="481.17" cy="190.52" r="1.8"/>
<circle cx="481.6" cy="197.77" r="1.8"/>
<circle cx="482.04" cy="193.62" r="1.8"/>
<circle cx="482.47" cy="193.39" r="1.8"/>
<circle cx="482.91" cy="195.06" r="1.8"/>
<circle cx="483.35" cy="198.53" r="1.8"/>
<circle cx="483.78" cy="194.03" r="1.8"/>
<circle cx="484.22" cy="198.51" r="1.8"/>
<circle cx="484.65" cy="198.47" r="1.8"/>
<circle cx="485.09" cy="196.84" r="1.8"/>
<circle cx="485.52" cy="194.85" r="1.8"/>
<circle cx="485.96" cy="195.69" r="1.8"/>
<circle cx="486.4" cy="194.73" r="1.8"/>
<circle cx="486.83" cy="196.83" r="1.8"/>
<circle cx="487.27" cy="196.25" r="1.8"/>
<circle cx="487.7" cy="197.82" r="1.8"/>
<circle cx="488.14" cy="196.27" r="1.8"/>
<circle cx="488.57" cy="194.59" r="1.8"/>
<circle cx="489.01" cy="196.09" r="1.8"/>
<circle cx="489.45" cy="194.69" r="1.8"/>
<circle cx="489.88" cy="196.49" r="1.8"/>
<circle cx="490.32" cy="196.48" r="1.8"/>
<circle cx="490.75" cy="195.31" r="1.8"/>
<circle cx="491.19" cy="195.62" r="1.8"/>
<circle cx="491.62" cy="194.11" r="1.8"/>
<circle cx="492.06" cy="194.67" r="1.8"/>
<circle cx="492.5" cy="191.79" r="1.8"/>
<circle cx="492.93" cy="195.09" r="1.8"/>
<circle cx="493.37" cy="195.04" r="1.8"/>
<circle cx="493.8" cy="196.5" r="1.8"/>
<circle cx="494.24" cy="194.79" r="1.8"/>
<circle cx="494.67" cy="193.92" r="1.8"/>
<circle cx="495.11" cy="196.8" r="1.8"/>
<circle cx="495.55" cy="196.08" r="1.8"/>
<circle cx="495.98" cy="195.27" r="1.8"/>
<circle cx="496.42" cy="197.3" r="1.8"/>
<circle cx="496.85" cy="198.49" r="1.8"/>
<circle cx="497.29" cy="196.31" r="1.8"/>
<circle cx="497.72" cy="198.16" r="1.8"/>
<circle cx="498.16" cy="197.82" r="1.8"/>
<circle cx="498.6" cy="196.54" r="1.8"/>
<circle cx="499.03" cy="196.55" r="1.8"/>
<circle cx="499.47" cy="199.07" r="1.8"/>
<circle cx="499.9" cy="199.24" r="1.8"/>
<circle cx="500.34" cy="197.69" r="1.8"/>
<circle cx="500.77" cy="198.31" r="1.8"/>
<circle cx="501.21" cy="201.31" r="1.8"/>
<circle cx="501.65" cy="195.72" r="1.8"/>
<circle cx="502.08" cy="197.96" r="1.8"/>
<circle cx="502.52" cy="196.79" r="1.8"/>
<circle cx="502.95" cy="200.25" r="1.8"/>
<circle cx="503.39" cy="196.08" r="1.8"/>
<circle cx="503.82" cy="199.51" r="1.8"/>
<circle cx="504.26" cy="198.81" r="1.8"/>
<circle cx="504.7" cy="201.21" r="1.8"/>
<circle cx="505.13" cy="199.17" r="1.8"/>
<circle cx="505.57" cy="199.39" r="1.8"/>
<circle cx="506" cy="199.43" r="1.8"/>
<circle cx="506.44" cy="198.45" r="1.8"/>
<circle cx="506.87" cy="199.21" r="1.8"/>
<circle cx="507.31" cy="197.7" r="1.8"/>
<circle cx="507.75" cy="200.3" r="1.8"/>
<circle cx="508.18" cy="201.25" r="1.8"/>
<circle cx="508.62" cy="199.51" r="1.8"/>
<circle cx="509.05" cy="198.3" r="1.8"/>
<circle cx="509.49" cy="197.1" r="1.8"/>
<circle cx="509.92" cy="197.69" r="1.8"/>
<circle cx="510.36" cy="202.05" r="1.8"/>
<circle cx="510.8" cy="198.16" r="1.8"/>
<circle cx="511.23" cy="196.19" r="1.8"/>
<circle cx="511.67" cy="198.64" r="1.8"/>
<circle cx="512.1" cy="199.76" r="1.8"/>
<circle cx="512.54" cy="198.54" r="1.8"/>
<circle cx="512.97" cy="200.28" r="1.8"/>
<circle cx="513.41" cy="198.69" r="1.8"/>
<circle cx="513.85" cy="200.29" r="1.8"/>
<circle cx="514.28" cy="198.3" r="1.8"/>
<circle cx="514.72" cy="200.31" r="1.8"/>
<circle cx="515.15" cy="202.85" r="1.8"/>
<circle cx="515.59" cy="200.85" r="1.8"/>
<circle cx="516.02" cy="200.51" r="1.8"/>
<circle cx="516.46" cy="203.29" r="1.8"/>
<circle cx="516.9" cy="203.12" r="1.8"/>
<circle cx="517.33" cy="206.44" r="1.8"/>
<circle cx="517.77" cy="200.8" r="1.8"/>
<circle cx="518.2" cy="203.36" r="1.8"/>
<circle cx="518.64" cy="205.99" r="1.8"/>
<circle cx="519.07" cy="205.3" r="1.8"/>
<circle cx="519.51" cy="202.52" r="1.8"/>
<circle cx="519.95" cy="200.72" r="1.8"/>
<circle cx="520.38" cy="202.15" r="1.8"/>
<circle cx="520.82" cy="201.12" r="1.8"/>
<circle cx="521.25" cy="203.86" r="1.8"/>
<circle cx="521.69" cy="204.3" r="1.8"/>
<circle cx="522.12" cy="200.47" r="1.8"/>
<circle cx="522.56" cy="201.28" r="1.8"/>
<circle cx="523" cy="202.34" r="1.8"/>
<circle cx="523.43" cy="200.2" r="1.8"/>
<circle cx="523.87" cy="204.27" r="1.8"/>
<circle cx="524.3" cy="203.47" r="1.8"/>
<circle cx="524.74" cy="201.02" r="1.8"/>
<circle cx="525.17" cy="199.62" r="1.8"/>
<circle cx="525.61" cy="202.79" r="1.8"/>
<circle cx="526.05" cy="199.78" r="1.8"/>
<circle cx="526.48" cy="203.65" r="1.8"/>
<circle cx="526.92" cy="201.88" r="1.8"/>
<circle cx="527.35" cy="202.62" r="1.8"/>
<circle cx="527.79" cy="204.97" r="1.8"/>
<circle cx="528.23" cy="201.62" r="1.8"/>
<circle cx="528.66" cy="200.35" r="1.8"/>
<circle cx="529.1" cy="202.17" r="1.8"/>
<circle cx="529.53" cy="201.99" r="1.8"/>
<circle cx="529.97" cy="199.39" r="1.8"/>
<circle cx="530.4" cy="204.02" r="1.8"/>
<circle cx="530.84" cy="204.48" r="1.8"/>
<circle cx="531.28" cy="203.07" r="1.8"/>
<circle cx="531.71" cy="204.12" r="1.8"/>
<circle cx="532.15" cy="199.8" r="1.8"/>
<circle cx="532.58" cy="201.78" r="1.8"/>
<circle cx="533.02" cy="204" r="1.8"/>
<circle cx="533.45" cy="203.73" r="1.8"/>
<circle cx="533.89" cy="197.78" r="1.8"/>
<circle cx="534.33" cy="203.97" r="1.8"/>
<circle cx="534.76" cy="204.31" r="1.8"/>
<circle cx="535.2" cy="202.48" r="1.8"/>
<circle cx="535.63" cy="201.92" r="1.8"/>
<circle cx="536.07" cy="202.66" r="1.8"/>
<circle cx="536.5" cy="204.65" r="1.8"/>
<circle cx="536.94" cy="205.12" r="1.8"/>
<circle cx="537.38" cy="202.08" r="1.8"/>
<circle cx="537.81" cy="203.26" r="1.8"/>
<circle cx="538.25" cy="206.08" r="1.8"/>
<circle cx="538.68" cy="201.2" r="1.8"/>
<circle cx="539.12" cy="201.91" r="1.8"/>
<circle cx="539.55" cy="203.7" r="1.8"/>
<circle cx="539.99" cy="203.73" r="1.8"/>
<circle cx="540.43" cy="202.85" r="1.8"/>
<circle cx="540.86" cy="204.44" r="1.8"/>
<circle cx="541.3" cy="205.57" r="1.8"/>
<circle cx="541.73" cy="202.62" r="1.8"/>
<circle cx="542.17" cy="205.66" r="1.8"/>
<circle cx="542.6" cy="202.4" r="1.8"/>
<circle cx="543.04" cy="205.52" r="1.8"/>
<circle cx="543.48" cy="203.06" r="1.8"/>
<circle cx="543.91" cy="202.98" r="1.8"/>
<circle cx="544.35" cy="199.45" r="1.8"/>
<circle cx="544.78" cy="204.24" r="1.8"/>
<circle cx="545.22" cy="204.65" r="1.8"/>
<circle cx="545.65" cy="203.1" r="1.8"/>
<circle cx="546.09" cy="203.74" r="1.8"/>
<circle cx="546.53" cy="202.63" r="1.8"/>
<circle cx="546.96" cy="200.71" r="1.8"/>
<circle cx="547.4" cy="200" r="1.8"/>
<circle cx="547.83" cy="198.39" r="1.8"/>
<circle cx="548.27" cy="202.6" r="1.8"/>
<circle cx="548.7" cy="196.78" r="1.8"/>
<circle cx="549.14" cy="198.08" r="1.8"/>
<circle cx="549.58" cy="202.14" r="1.8"/>
<circle cx="550.01" cy="206.09" r="1.8"/>
<circle cx="550.45" cy="202.59" r="1.8"/>
<circle cx="550.88" cy="202.72" r="1.8"/>
<circle cx="551.32" cy="207.3" r="1.8"/>
<circle cx="551.75" cy="203.58" r="1.8"/>
<circle cx="552.19" cy="204.49" r="1.8"/>
<circle cx="552.63" cy="205.9" r="1.8"/>
<circle cx="553.06" cy="203.76" r="1.8"/>
<circle cx="553.5" cy="203.37" r="1.8"/>
<circle cx="553.93" cy="206.17" r="1.8"/>
<circle cx="554.37" cy="205.04" r="1.8"/>
<circle cx="554.8" cy="206.62" r="1.8"/>
<circle cx="555.24" cy="206.82" r="1.8"/>
<circle cx="555.68" cy="205.2" r="1.8"/>
<circle cx="556.11" cy="204.26" r="1.8"/>
<circle cx="556.55" cy="205.93" r="1.8"/>
<circle cx="556.98" cy="208.54" r="1.8"/>
<circle cx="557.42" cy="203.31" r="1.8"/>
<circle cx="557.85" cy="206.75" r="1.8"/>
<circle cx="558.29" cy="203.33" r="1.8"/>
<circle cx="558.73" cy="200" r="1.8"/>
<circle cx="559.16" cy="202.71" r="1.8"/>
<circle cx="559.6" cy="204.35" r="1.8"/>
<circle cx="560.03" cy="204.46" r="1.8"/>
<circle cx="560.47" cy="199.53" r="1.8"/>
<circle cx="560.9" cy="201.34" r="1.8"/>
<circle cx="561.34" cy="200.17" r="1.8"/>
<circle cx="561.78" cy="199.36" r="1.8"/>
<circle cx="562.21" cy="200.99" r="1.8"/>
<circle cx="562.65" cy="201.41" r="1.8"/>
<circle cx="563.08" cy="202.54" r="1.8"/>
<circle cx="563.52" cy="206.32" r="1.8"/>
<circle cx="563.95" cy="203.65" r="1.8"/>
<circle cx="564.39" cy="201.19" r="1.8"/>
<circle cx="564.83" cy="201.45" r="1.8"/>
<circle cx="565.26" cy="200.5" r="1.8"/>
<circle cx="565.7" cy="201.49" r="1.8"/>
<circle cx="566.13" cy="201.03" r="1.8"/>
<circle cx="566.57" cy="199.96" r="1.8"/>
<circle cx="567" cy="202.92" r="1.8"/>
<circle cx="567.44" cy="201.94" r="1.8"/>
<circle cx="567.88" cy="204.34" r="1.8"/>
<circle cx="568.31" cy="199.96" r="1.8"/>
<circle cx="568.75" cy="201.78" r="1.8"/>
<circle cx="569.18" cy="201.23" r="1.8"/>
<circle cx="569.62" cy="199.65" r="1.8"/>
<circle cx="570.05" cy="200.74" r="1.8"/>
<circle cx="570.49" cy="203" r="1.8"/>
<circle cx="570.93" cy="201.74" r="1.8"/>
<circle cx="571.36" cy="205.78" r="1.8"/>
<circle cx="571.8" cy="202.59" r="1.8"/>
<circle cx="572.23" cy="203.1" r="1.8"/>
<circle cx="572.67" cy="206.1" r="1.8"/>
<circle cx="573.1" cy="200.79" r="1.8"/>
<circle cx="573.54" cy="204.19" r="1.8"/>
<circle cx="573.98" cy="201.57" r="1.8"/>
<circle cx="574.41" cy="203.33" r="1.8"/>
<circle cx="574.85" cy="200.69" r="1.8"/>
<circle cx="575.28" cy="199.99" r="1.8"/>
<circle cx="575.72" cy="203.61" r="1.8"/>
<circle cx="576.15" cy="204.7" r="1.8"/>
<circle cx="576.59" cy="202.11" r="1.8"/>
<circle cx="577.03" cy="200.22" r="1.8"/>
<circle cx="577.46" cy="202.17" r="1.8"/>
<circle cx="577.9" cy="202.39" r="1.8"/>
<circle cx="578.33" cy="200.26" r="1.8"/>
<circle cx="578.77" cy="205.76" r="1.8"/>
<circle cx="579.21" cy="201.95" r="1.8"/>
<circle cx="579.64" cy="203.12" r="1.8"/>
<circle cx="580.08" cy="200.14" r="1.8"/>
<circle cx="580.51" cy="201.97" r="1.8"/>
<circle cx="580.95" cy="202.69" r="1.8"/>
<circle cx="581.38" cy="201.45" r="1.8"/>
<circle cx="581.82" cy="203.52" r="1.8"/>
<circle cx="582.26" cy="201.1" r="1.8"/>
<circle cx="582.69" cy="202.42" r="1.8"/>
<circle cx="583.13" cy="202.04" r="1.8"/>
<circle cx="583.56" cy="202.82" r="1.8"/>
<circle cx="584" cy="200.17" r="1.8"/>
<circle cx="584.43" cy="202.18" r="1.8"/>
<circle cx="584.87" cy="201.33" r="1.8"/>
<circle cx="585.31" cy="201.67" r="1.8"/>
<circle cx="585.74" cy="204.19" r="1.8"/>
<circle cx="586.18" cy="202.04" r="1.8"/>
<circle cx="586.61" cy="202.65" r="1.8"/>
<circle cx="587.05" cy="202.9" r="1.8"/>
<circle cx="587.48" cy="204.28" r="1.8"/>
<circle cx="587.92" cy="204.43" r="1.8"/>
<circle cx="588.36" cy="202.35" r="1.8"/>
<circle cx="588.79" cy="199.93" r="1.8"/>
<circle cx="589.23" cy="205.2" r="1.8"/>
<circle cx="589.66" cy="202.81" r="1.8"/>
<circle cx="590.1" cy="204.4" r="1.8"/>
<circle cx="590.53" cy="202.42" r="1.8"/>
<circle cx="590.97" cy="203.08" r="1.8"/>
<circle cx="591.41" cy="202.06" r="1.8"/>
<circle cx="591.84" cy="208.88" r="1.8"/>
<circle cx="592.28" cy="205.1" r="1.8"/>
<circle cx="592.71" cy="205.83" r="1.8"/>
<circle cx="593.15" cy="204.31" r="1.8"/>
<circle cx="593.58" cy="205.37" r="1.8"/>
<circle cx="594.02" cy="205.18" r="1.8"/>
<circle cx="594.46" cy="202.79" r="1.8"/>
<circle cx="594.89" cy="200.56" r="1.8"/>
<circle cx="595.33" cy="208.72" r="1.8"/>
<circle cx="595.76" cy="204.19" r="1.8"/>
<circle cx="596.2" cy="202.97" r="1.8"/>
<circle cx="596.63" cy="203.38" r="1.8"/>
<circle cx="597.07" cy="203.87" r="1.8"/>
<circle cx="597.51" cy="205.52" r="1.8"/>
<circle cx="597.94" cy="204.69" r="1.8"/>
<circle cx="598.38" cy="201.66" r="1.8"/>
<circle cx="598.81" cy="200.95" r="1.8"/>
<circle cx="599.25" cy="202.57" r="1.8"/>
<circle cx="599.68" cy="204.12" r="1.8"/>
<circle cx="600.12" cy="202.42" r="1.8"/>
<circle cx="600.56" cy="202.94" r="1.8"/>
<circle cx="600.99" cy="201.52" r="1.8"/>
<circle cx="601.43" cy="202.23" r="1.8"/>
<circle cx="601.86" cy="203.51" r="1.8"/>
<circle cx="602.3" cy="202.1" r="1.8"/>
<circle cx="602.73" cy="204.52" r="1.8"/>
<circle cx="603.17" cy="201.06" r="1.8"/>
<circle cx="603.61" cy="200.47" r="1.8"/>
<circle cx="604.04" cy="204.65" r="1.8"/>
<circle cx="604.48" cy="201.91" r="1.8"/>
<circle cx="604.91" cy="204.44" r="1.8"/>
<circle cx="605.35" cy="200.89" r="1.8"/>
<circle cx="605.78" cy="201.24" r="1.8"/>
<circle cx="606.22" cy="203.29" r="1.8"/>
<circle cx="606.66" cy="201.23" r="1.8"/>
<circle cx="607.09" cy="203.82" r="1.8"/>
<circle cx="607.53" cy="204.3" r="1.8"/>
<circle cx="607.96" cy="204.28" r="1.8"/>
<circle cx="608.4" cy="203.65" r="1.8"/>
<circle cx="608.83" cy="204.09" r="1.8"/>
<circle cx="609.27" cy="203.37" r="1.8"/>
<circle cx="609.71" cy="204.83" r="1.8"/>
<circle cx="610.14" cy="202.52" r="1.8"/>
<circle cx="610.58" cy="202.17" r="1.8"/>
<circle cx="611.01" cy="204.92" r="1.8"/>
<circle cx="611.45" cy="206.64" r="1.8"/>
<circle cx="611.88" cy="202.98" r="1.8"/>
<circle cx="612.32" cy="202.35" r="1.8"/>
<circle cx="612.76" cy="204.7" r="1.8"/>
<circle cx="613.19" cy="206.72" r="1.8"/>
<circle cx="613.63" cy="204.02" r="1.8"/>
<circle cx="614.06" cy="201.78" r="1.8"/>
<circle cx="614.5" cy="207.64" r="1.8"/>
<circle cx="614.93" cy="203.37" r="1.8"/>
<circle cx="615.37" cy="204.54" r="1.8"/>
<circle cx="615.81" cy="205.23" r="1.8"/>
<circle cx="616.24" cy="202.58" r="1.8"/>
<circle cx="616.68" cy="205.42" r="1.8"/>
<circle cx="617.11" cy="202.33" r="1.8"/>
<circle cx="617.55" cy="200.26" r="1.8"/>
<circle cx="617.98" cy="201.99" r="1.8"/>
<circle cx="618.42" cy="203.6" r="1.8"/>
<circle cx="618.86" cy="204.99" r="1.8"/>
<circle cx="619.29" cy="203.97" r="1.8"/>
<circle cx="619.73" cy="204.83" r="1.8"/>
<circle cx="620.16" cy="198.72" r="1.8"/>
<circle cx="620.6" cy="201.91" r="1.8"/>
<circle cx="621.03" cy="203.29" r="1.8"/>
<circle cx="621.47" cy="203.77" r="1.8"/>
<circle cx="621.91" cy="203.45" r="1.8"/>
<circle cx="622.34" cy="202.3" r="1.8"/>
<circle cx="622.78" cy="204.14" r="1.8"/>
<circle cx="623.21" cy="199.19" r="1.8"/>
<circle cx="623.65" cy="203.73" r="1.8"/>
<circle cx="624.08" cy="204.13" r="1.8"/>
<circle cx="624.52" cy="202.61" r="1.8"/>
<circle cx="624.96" cy="201.04" r="1.8"/>
<circle cx="625.39" cy="201.71" r="1.8"/>
<circle cx="625.83" cy="205.32" r="1.8"/>
<circle cx="626.26" cy="204.45" r="1.8"/>
<circle cx="626.7" cy="205.01" r="1.8"/>
<circle cx="627.13" cy="204.65" r="1.8"/>
<circle cx="627.57" cy="205.36" r="1.8"/>
<circle cx="628.01" cy="207.59" r="1.8"/>
<circle cx="628.44" cy="208.18" r="1.8"/>
<circle cx="628.88" cy="205.62" r="1.8"/>
<circle cx="629.31" cy="207.88" r="1.8"/>
<circle cx="629.75" cy="203.23" r="1.8"/>
<circle cx="630.18" cy="205.3" r="1.8"/>
<circle cx="630.62" cy="206.89" r="1.8"/>
<circle cx="631.06" cy="205.35" r="1.8"/>
<circle cx="631.49" cy="205.36" r="1.8"/>
<circle cx="631.93" cy="204.39" r="1.8"/>
<circle cx="632.36" cy="202.2" r="1.8"/>
<circle cx="632.8" cy="206.11" r="1.8"/>
<circle cx="633.24" cy="206.6" r="1.8"/>
<circle cx="633.67" cy="202.52" r="1.8"/>
<circle cx="634.11" cy="203.24" r="1.8"/>
<circle cx="634.54" cy="202.49" r="1.8"/>
<circle cx="634.98" cy="201.88" r="1.8"/>
<circle cx="635.41" cy="202.89" r="1.8"/>
<circle cx="635.85" cy="201.13" r="1.8"/>
<circle cx="636.29" cy="204.08" r="1.8"/>
<circle cx="636.72" cy="202.43" r="1.8"/>
<circle cx="637.16" cy="204.05" r="1.8"/>
<circle cx="637.59" cy="204.65" r="1.8"/>
<circle cx="638.03" cy="201.68" r="1.8"/>
<circle cx="638.46" cy="201.85" r="1.8"/>
<circle cx="638.9" cy="206.31" r="1.8"/>
<circle cx="639.34" cy="204.91" r="1.8"/>
<circle cx="639.77" cy="202.43" r="1.8"/>
<circle cx="640.21" cy="201.01" r="1.8"/>
<circle cx="640.64" cy="203.93" r="1.8"/>
<circle cx="641.08" cy="202.91" r="1.8"/>
<circle cx="641.51" cy="204.83" r="1.8"/>
<circle cx="641.95" cy="197.69" r="1.8"/>
<circle cx="642.39" cy="200.95" r="1.8"/>
<circle cx="642.82" cy="199.9" r="1.8"/>
<circle cx="643.26" cy="200.02" r="1.8"/>
<circle cx="643.69" cy="199.29" r="1.8"/>
<circle cx="644.13" cy="199.66" r="1.8"/>
<circle cx="644.56" cy="201.17" r="1.8"/>
<circle cx="645" cy="199.2" r="1.8"/>
<circle cx="645.44" cy="200.35" r="1.8"/>
<circle cx="645.87" cy="198.24" r="1.8"/>
<circle cx="646.31" cy="201.86" r="1.8"/>
<circle cx="646.74" cy="201.6" r="1.8"/>
<circle cx="647.18" cy="199.6" r="1.8"/>
<circle cx="647.61" cy="198.63" r="1.8"/>
<circle cx="648.05" cy="200.75" r="1.8"/>
<circle cx="648.49" cy="202.39" r="1.8"/>
<circle cx="648.92" cy="201.5" r="1.8"/>
<circle cx="649.36" cy="202.33" r="1.8"/>
<circle cx="649.79" cy="198.29" r="1.8"/>
<circle cx="650.23" cy="200.18" r="1.8"/>
<circle cx="650.66" cy="199.67" r="1.8"/>
<circle cx="651.1" cy="201.44" r="1.8"/>
<circle cx="651.54" cy="202.99" r="1.8"/>
<circle cx="651.97" cy="199.97" r="1.8"/>
<circle cx="652.41" cy="199.07" r="1.8"/>
<circle cx="652.84" cy="200.84" r="1.8"/>
<circle cx="653.28" cy="201.74" r="1.8"/>
<circle cx="653.71" cy="199.61" r="1.8"/>
<circle cx="654.15" cy="201.93" r="1.8"/>
<circle cx="654.59" cy="199.71" r="1.8"/>
<circle cx="655.02" cy="202.08" r="1.8"/>
<circle cx="655.46" cy="202.36" r="1.8"/>
<circle cx="655.89" cy="199.55" r="1.8"/>
<circle cx="656.33" cy="199.89" r="1.8"/>
<circle cx="656.76" cy="197.18" r="1.8"/>
<circle cx="657.2" cy="201.1" r="1.8"/>
</g>
<g fill="none" stroke="#EE7A84" stroke-width="0.95">
<circle cx="396.2" cy="33.02" r="1.85"/>
<circle cx="396.64" cy="35.13" r="1.85"/>
<circle cx="397.07" cy="39.44" r="1.85"/>
<circle cx="397.51" cy="35.67" r="1.85"/>
<circle cx="397.94" cy="37.98" r="1.85"/>
<circle cx="398.38" cy="39.18" r="1.85"/>
<circle cx="398.81" cy="44.21" r="1.85"/>
<circle cx="399.25" cy="40.75" r="1.85"/>
<circle cx="399.69" cy="40.49" r="1.85"/>
<circle cx="400.12" cy="42.91" r="1.85"/>
<circle cx="400.56" cy="38.44" r="1.85"/>
<circle cx="400.99" cy="34.72" r="1.85"/>
<circle cx="401.43" cy="41.27" r="1.85"/>
<circle cx="401.86" cy="40.3" r="1.85"/>
<circle cx="402.3" cy="36.51" r="1.85"/>
<circle cx="402.74" cy="42.75" r="1.85"/>
<circle cx="403.17" cy="39" r="1.85"/>
<circle cx="403.61" cy="49.39" r="1.85"/>
<circle cx="404.04" cy="47.06" r="1.85"/>
<circle cx="404.48" cy="42.13" r="1.85"/>
<circle cx="404.91" cy="45.35" r="1.85"/>
<circle cx="405.35" cy="48.67" r="1.85"/>
<circle cx="405.79" cy="46.05" r="1.85"/>
<circle cx="406.22" cy="49.03" r="1.85"/>
<circle cx="406.66" cy="49.43" r="1.85"/>
<circle cx="407.09" cy="53.74" r="1.85"/>
<circle cx="407.53" cy="52.55" r="1.85"/>
<circle cx="407.96" cy="53.12" r="1.85"/>
<circle cx="408.4" cy="57.33" r="1.85"/>
<circle cx="408.84" cy="64.44" r="1.85"/>
<circle cx="409.27" cy="57.78" r="1.85"/>
<circle cx="409.71" cy="49.11" r="1.85"/>
<circle cx="410.14" cy="69.41" r="1.85"/>
<circle cx="410.58" cy="63.56" r="1.85"/>
<circle cx="411.01" cy="61.74" r="1.85"/>
<circle cx="411.45" cy="60.61" r="1.85"/>
<circle cx="411.89" cy="58.13" r="1.85"/>
<circle cx="412.32" cy="59.24" r="1.85"/>
<circle cx="412.76" cy="59.11" r="1.85"/>
<circle cx="413.19" cy="59.71" r="1.85"/>
<circle cx="413.63" cy="68.26" r="1.85"/>
<circle cx="414.06" cy="67.08" r="1.85"/>
<circle cx="414.5" cy="69.8" r="1.85"/>
<circle cx="414.94" cy="67.49" r="1.85"/>
<circle cx="415.37" cy="71.57" r="1.85"/>
<circle cx="415.81" cy="74.63" r="1.85"/>
<circle cx="416.24" cy="65.36" r="1.85"/>
<circle cx="416.68" cy="73.82" r="1.85"/>
<circle cx="417.11" cy="76.49" r="1.85"/>
<circle cx="417.55" cy="72.22" r="1.85"/>
<circle cx="417.99" cy="80.44" r="1.85"/>
<circle cx="418.42" cy="78.73" r="1.85"/>
<circle cx="418.86" cy="80.19" r="1.85"/>
<circle cx="419.29" cy="85.38" r="1.85"/>
<circle cx="419.73" cy="88.37" r="1.85"/>
<circle cx="420.16" cy="79.7" r="1.85"/>
<circle cx="420.6" cy="82.28" r="1.85"/>
<circle cx="421.04" cy="82.72" r="1.85"/>
<circle cx="421.47" cy="78.14" r="1.85"/>
<circle cx="421.91" cy="84.43" r="1.85"/>
<circle cx="422.34" cy="75.92" r="1.85"/>
<circle cx="422.78" cy="88.35" r="1.85"/>
<circle cx="423.22" cy="92.89" r="1.85"/>
<circle cx="423.65" cy="84.9" r="1.85"/>
<circle cx="424.09" cy="83.77" r="1.85"/>
<circle cx="424.52" cy="80.57" r="1.85"/>
<circle cx="424.96" cy="89.17" r="1.85"/>
<circle cx="425.39" cy="90" r="1.85"/>
<circle cx="425.83" cy="90.51" r="1.85"/>
<circle cx="426.27" cy="82.88" r="1.85"/>
<circle cx="426.7" cy="98.32" r="1.85"/>
<circle cx="427.14" cy="92.03" r="1.85"/>
<circle cx="427.57" cy="94.16" r="1.85"/>
<circle cx="428.01" cy="98.22" r="1.85"/>
<circle cx="428.44" cy="97.09" r="1.85"/>
<circle cx="428.88" cy="96.18" r="1.85"/>
<circle cx="429.32" cy="100.09" r="1.85"/>
<circle cx="429.75" cy="97.89" r="1.85"/>
<circle cx="430.19" cy="96.32" r="1.85"/>
<circle cx="430.62" cy="96.67" r="1.85"/>
<circle cx="431.06" cy="101.33" r="1.85"/>
<circle cx="431.49" cy="101.36" r="1.85"/>
<circle cx="431.93" cy="101.02" r="1.85"/>
<circle cx="432.37" cy="99.09" r="1.85"/>
<circle cx="432.8" cy="102.13" r="1.85"/>
<circle cx="433.24" cy="99.58" r="1.85"/>
<circle cx="433.67" cy="102.81" r="1.85"/>
<circle cx="434.11" cy="110.58" r="1.85"/>
<circle cx="434.54" cy="103.18" r="1.85"/>
<circle cx="434.98" cy="109.7" r="1.85"/>
<circle cx="435.42" cy="106.97" r="1.85"/>
<circle cx="435.85" cy="109.83" r="1.85"/>
<circle cx="436.29" cy="107.92" r="1.85"/>
<circle cx="436.72" cy="111.78" r="1.85"/>
<circle cx="437.16" cy="112.47" r="1.85"/>
<circle cx="437.59" cy="119.15" r="1.85"/>
<circle cx="438.03" cy="110.48" r="1.85"/>
<circle cx="438.47" cy="115.59" r="1.85"/>
<circle cx="438.9" cy="117.81" r="1.85"/>
<circle cx="439.34" cy="113.46" r="1.85"/>
<circle cx="439.77" cy="116.78" r="1.85"/>
<circle cx="440.21" cy="118.87" r="1.85"/>
<circle cx="440.64" cy="119.22" r="1.85"/>
<circle cx="441.08" cy="121.6" r="1.85"/>
<circle cx="441.52" cy="126.1" r="1.85"/>
<circle cx="441.95" cy="127.55" r="1.85"/>
<circle cx="442.39" cy="121.37" r="1.85"/>
<circle cx="442.82" cy="121.36" r="1.85"/>
<circle cx="443.26" cy="123.11" r="1.85"/>
<circle cx="443.69" cy="123.75" r="1.85"/>
<circle cx="444.13" cy="121.43" r="1.85"/>
<circle cx="444.57" cy="120.43" r="1.85"/>
<circle cx="445" cy="122.15" r="1.85"/>
<circle cx="445.44" cy="119.83" r="1.85"/>
<circle cx="445.87" cy="119.68" r="1.85"/>
<circle cx="446.31" cy="123.6" r="1.85"/>
<circle cx="446.74" cy="119.32" r="1.85"/>
<circle cx="447.18" cy="124.92" r="1.85"/>
<circle cx="447.62" cy="128.95" r="1.85"/>
<circle cx="448.05" cy="120.62" r="1.85"/>
<circle cx="448.49" cy="124.66" r="1.85"/>
<circle cx="448.92" cy="118.53" r="1.85"/>
<circle cx="449.36" cy="129.15" r="1.85"/>
<circle cx="449.79" cy="123.73" r="1.85"/>
<circle cx="450.23" cy="128.39" r="1.85"/>
<circle cx="450.67" cy="127.94" r="1.85"/>
<circle cx="451.1" cy="132.98" r="1.85"/>
<circle cx="451.54" cy="123.44" r="1.85"/>
<circle cx="451.97" cy="132.11" r="1.85"/>
<circle cx="452.41" cy="125.85" r="1.85"/>
<circle cx="452.84" cy="132.57" r="1.85"/>
<circle cx="453.28" cy="136.31" r="1.85"/>
<circle cx="453.72" cy="135.45" r="1.85"/>
<circle cx="454.15" cy="129.56" r="1.85"/>
<circle cx="454.59" cy="135.49" r="1.85"/>
<circle cx="455.02" cy="133.96" r="1.85"/>
<circle cx="455.46" cy="130.59" r="1.85"/>
<circle cx="455.89" cy="132.01" r="1.85"/>
<circle cx="456.33" cy="138.66" r="1.85"/>
<circle cx="456.77" cy="137.12" r="1.85"/>
<circle cx="457.2" cy="132.34" r="1.85"/>
<circle cx="457.64" cy="139.01" r="1.85"/>
<circle cx="458.07" cy="135.22" r="1.85"/>
<circle cx="458.51" cy="137.92" r="1.85"/>
<circle cx="458.94" cy="142.61" r="1.85"/>
<circle cx="459.38" cy="138.65" r="1.85"/>
<circle cx="459.82" cy="141.7" r="1.85"/>
<circle cx="460.25" cy="140.07" r="1.85"/>
<circle cx="460.69" cy="143.09" r="1.85"/>
<circle cx="461.12" cy="139.41" r="1.85"/>
<circle cx="461.56" cy="141.82" r="1.85"/>
<circle cx="461.99" cy="139.49" r="1.85"/>
<circle cx="462.43" cy="145.62" r="1.85"/>
<circle cx="462.87" cy="143.51" r="1.85"/>
<circle cx="463.3" cy="140.54" r="1.85"/>
<circle cx="463.74" cy="140.62" r="1.85"/>
<circle cx="464.17" cy="141.81" r="1.85"/>
<circle cx="464.61" cy="142.86" r="1.85"/>
<circle cx="465.04" cy="147.91" r="1.85"/>
<circle cx="465.48" cy="145.21" r="1.85"/>
<circle cx="465.92" cy="145.19" r="1.85"/>
<circle cx="466.35" cy="146.78" r="1.85"/>
<circle cx="466.79" cy="146.01" r="1.85"/>
<circle cx="467.22" cy="149.6" r="1.85"/>
<circle cx="467.66" cy="146.55" r="1.85"/>
<circle cx="468.09" cy="149.76" r="1.85"/>
<circle cx="468.53" cy="151.6" r="1.85"/>
<circle cx="468.97" cy="153.54" r="1.85"/>
<circle cx="469.4" cy="146.54" r="1.85"/>
<circle cx="469.84" cy="152.96" r="1.85"/>
<circle cx="470.27" cy="152.56" r="1.85"/>
<circle cx="470.71" cy="154.14" r="1.85"/>
<circle cx="471.14" cy="144.39" r="1.85"/>
<circle cx="471.58" cy="145" r="1.85"/>
<circle cx="472.02" cy="152.6" r="1.85"/>
<circle cx="472.45" cy="155.72" r="1.85"/>
<circle cx="472.89" cy="153.25" r="1.85"/>
<circle cx="473.32" cy="153.35" r="1.85"/>
<circle cx="473.76" cy="153.4" r="1.85"/>
<circle cx="474.19" cy="151.57" r="1.85"/>
<circle cx="474.63" cy="155.88" r="1.85"/>
<circle cx="475.07" cy="153.93" r="1.85"/>
<circle cx="475.5" cy="152.97" r="1.85"/>
<circle cx="475.94" cy="153.46" r="1.85"/>
<circle cx="476.37" cy="153.86" r="1.85"/>
<circle cx="476.81" cy="156.73" r="1.85"/>
<circle cx="477.25" cy="155.97" r="1.85"/>
<circle cx="477.68" cy="153.95" r="1.85"/>
<circle cx="478.12" cy="159.73" r="1.85"/>
<circle cx="478.55" cy="154.1" r="1.85"/>
<circle cx="478.99" cy="158.21" r="1.85"/>
<circle cx="479.42" cy="154.98" r="1.85"/>
<circle cx="479.86" cy="162.66" r="1.85"/>
<circle cx="480.3" cy="157.11" r="1.85"/>
<circle cx="480.73" cy="160.1" r="1.85"/>
<circle cx="481.17" cy="156.09" r="1.85"/>
<circle cx="481.6" cy="159.51" r="1.85"/>
<circle cx="482.04" cy="162.14" r="1.85"/>
<circle cx="482.47" cy="157.41" r="1.85"/>
<circle cx="482.91" cy="161.99" r="1.85"/>
<circle cx="483.35" cy="162.97" r="1.85"/>
<circle cx="483.78" cy="162.65" r="1.85"/>
<circle cx="484.22" cy="162.42" r="1.85"/>
<circle cx="484.65" cy="162.26" r="1.85"/>
<circle cx="485.09" cy="162.12" r="1.85"/>
<circle cx="485.52" cy="158.09" r="1.85"/>
<circle cx="485.96" cy="158.01" r="1.85"/>
<circle cx="486.4" cy="157.57" r="1.85"/>
<circle cx="486.83" cy="156.01" r="1.85"/>
<circle cx="487.27" cy="159.88" r="1.85"/>
<circle cx="487.7" cy="162.02" r="1.85"/>
<circle cx="488.14" cy="165.57" r="1.85"/>
<circle cx="488.57" cy="164.07" r="1.85"/>
<circle cx="489.01" cy="163.5" r="1.85"/>
<circle cx="489.45" cy="160.78" r="1.85"/>
<circle cx="489.88" cy="166.48" r="1.85"/>
<circle cx="490.32" cy="161.33" r="1.85"/>
<circle cx="490.75" cy="162.04" r="1.85"/>
<circle cx="491.19" cy="167.29" r="1.85"/>
<circle cx="491.62" cy="168.06" r="1.85"/>
<circle cx="492.06" cy="167.58" r="1.85"/>
<circle cx="492.5" cy="170" r="1.85"/>
<circle cx="492.93" cy="171.1" r="1.85"/>
<circle cx="493.37" cy="169.95" r="1.85"/>
<circle cx="493.8" cy="167.42" r="1.85"/>
<circle cx="494.24" cy="174.48" r="1.85"/>
<circle cx="494.67" cy="166.87" r="1.85"/>
<circle cx="495.11" cy="164.39" r="1.85"/>
<circle cx="495.55" cy="165.25" r="1.85"/>
<circle cx="495.98" cy="164.09" r="1.85"/>
<circle cx="496.42" cy="171.92" r="1.85"/>
<circle cx="496.85" cy="170.84" r="1.85"/>
<circle cx="497.29" cy="164.16" r="1.85"/>
<circle cx="497.72" cy="167.3" r="1.85"/>
<circle cx="498.16" cy="165.31" r="1.85"/>
<circle cx="498.6" cy="168.33" r="1.85"/>
<circle cx="499.03" cy="167.75" r="1.85"/>
<circle cx="499.47" cy="172.33" r="1.85"/>
<circle cx="499.9" cy="171.71" r="1.85"/>
<circle cx="500.34" cy="168.61" r="1.85"/>
<circle cx="500.77" cy="171.07" r="1.85"/>
<circle cx="501.21" cy="172.16" r="1.85"/>
<circle cx="501.65" cy="170.49" r="1.85"/>
<circle cx="502.08" cy="175.1" r="1.85"/>
<circle cx="502.52" cy="177.7" r="1.85"/>
<circle cx="502.95" cy="176.11" r="1.85"/>
<circle cx="503.39" cy="175.05" r="1.85"/>
<circle cx="503.82" cy="170.78" r="1.85"/>
<circle cx="504.26" cy="177.14" r="1.85"/>
<circle cx="504.7" cy="173.23" r="1.85"/>
<circle cx="505.13" cy="173.94" r="1.85"/>
<circle cx="505.57" cy="173.58" r="1.85"/>
<circle cx="506" cy="172.34" r="1.85"/>
<circle cx="506.44" cy="176.32" r="1.85"/>
<circle cx="506.87" cy="174.06" r="1.85"/>
<circle cx="507.31" cy="179.42" r="1.85"/>
<circle cx="507.75" cy="174.68" r="1.85"/>
<circle cx="508.18" cy="176.78" r="1.85"/>
<circle cx="508.62" cy="180.68" r="1.85"/>
<circle cx="509.05" cy="183.8" r="1.85"/>
<circle cx="509.49" cy="178.94" r="1.85"/>
<circle cx="509.92" cy="179.37" r="1.85"/>
<circle cx="510.36" cy="173.82" r="1.85"/>
<circle cx="510.8" cy="174.02" r="1.85"/>
<circle cx="511.23" cy="182.18" r="1.85"/>
<circle cx="511.67" cy="177.42" r="1.85"/>
<circle cx="512.1" cy="180.26" r="1.85"/>
<circle cx="512.54" cy="180.38" r="1.85"/>
<circle cx="512.97" cy="183.16" r="1.85"/>
<circle cx="513.41" cy="180.59" r="1.85"/>
<circle cx="513.85" cy="178.86" r="1.85"/>
<circle cx="514.28" cy="181.01" r="1.85"/>
<circle cx="514.72" cy="177.56" r="1.85"/>
<circle cx="515.15" cy="178.48" r="1.85"/>
<circle cx="515.59" cy="174.07" r="1.85"/>
<circle cx="516.02" cy="175.89" r="1.85"/>
<circle cx="516.46" cy="176.16" r="1.85"/>
<circle cx="516.9" cy="176.42" r="1.85"/>
<circle cx="517.33" cy="177.26" r="1.85"/>
<circle cx="517.77" cy="173.66" r="1.85"/>
<circle cx="518.2" cy="177" r="1.85"/>
<circle cx="518.64" cy="173.63" r="1.85"/>
<circle cx="519.07" cy="175.37" r="1.85"/>
<circle cx="519.51" cy="174.8" r="1.85"/>
<circle cx="519.95" cy="170.35" r="1.85"/>
<circle cx="520.38" cy="173.4" r="1.85"/>
<circle cx="520.82" cy="173.33" r="1.85"/>
<circle cx="521.25" cy="176.11" r="1.85"/>
<circle cx="521.69" cy="175.2" r="1.85"/>
<circle cx="522.12" cy="174.96" r="1.85"/>
<circle cx="522.56" cy="177.36" r="1.85"/>
<circle cx="523" cy="178.08" r="1.85"/>
<circle cx="523.43" cy="175.49" r="1.85"/>
<circle cx="523.87" cy="173.33" r="1.85"/>
<circle cx="524.3" cy="179.56" r="1.85"/>
<circle cx="524.74" cy="176.91" r="1.85"/>
<circle cx="525.17" cy="179.41" r="1.85"/>
<circle cx="525.61" cy="177.22" r="1.85"/>
<circle cx="526.05" cy="178.15" r="1.85"/>
<circle cx="526.48" cy="182.56" r="1.85"/>
<circle cx="526.92" cy="182.94" r="1.85"/>
<circle cx="527.35" cy="179.52" r="1.85"/>
<circle cx="527.79" cy="180.6" r="1.85"/>
<circle cx="528.23" cy="180.46" r="1.85"/>
<circle cx="528.66" cy="180.03" r="1.85"/>
<circle cx="529.1" cy="179.99" r="1.85"/>
<circle cx="529.53" cy="176.16" r="1.85"/>
<circle cx="529.97" cy="180.45" r="1.85"/>
<circle cx="530.4" cy="181.15" r="1.85"/>
<circle cx="530.84" cy="181.86" r="1.85"/>
<circle cx="531.28" cy="177.31" r="1.85"/>
<circle cx="531.71" cy="178.56" r="1.85"/>
<circle cx="532.15" cy="182.49" r="1.85"/>
<circle cx="532.58" cy="183.51" r="1.85"/>
<circle cx="533.02" cy="183.71" r="1.85"/>
<circle cx="533.45" cy="179.34" r="1.85"/>
<circle cx="533.89" cy="179.29" r="1.85"/>
<circle cx="534.33" cy="181.52" r="1.85"/>
<circle cx="534.76" cy="186.68" r="1.85"/>
<circle cx="535.2" cy="185.68" r="1.85"/>
<circle cx="535.63" cy="181.94" r="1.85"/>
<circle cx="536.07" cy="183.05" r="1.85"/>
<circle cx="536.5" cy="182.9" r="1.85"/>
<circle cx="536.94" cy="183.57" r="1.85"/>
<circle cx="537.38" cy="184.2" r="1.85"/>
<circle cx="537.81" cy="182.23" r="1.85"/>
<circle cx="538.25" cy="183.16" r="1.85"/>
<circle cx="538.68" cy="186.49" r="1.85"/>
<circle cx="539.12" cy="183.62" r="1.85"/>
<circle cx="539.55" cy="181.49" r="1.85"/>
<circle cx="539.99" cy="182.94" r="1.85"/>
<circle cx="540.43" cy="180.44" r="1.85"/>
<circle cx="540.86" cy="178.1" r="1.85"/>
<circle cx="541.3" cy="185.27" r="1.85"/>
<circle cx="541.73" cy="174.9" r="1.85"/>
<circle cx="542.17" cy="183.61" r="1.85"/>
<circle cx="542.6" cy="183.14" r="1.85"/>
<circle cx="543.04" cy="181.73" r="1.85"/>
<circle cx="543.48" cy="186.59" r="1.85"/>
<circle cx="543.91" cy="183.42" r="1.85"/>
<circle cx="544.35" cy="183.82" r="1.85"/>
<circle cx="544.78" cy="185.27" r="1.85"/>
<circle cx="545.22" cy="183.57" r="1.85"/>
<circle cx="545.65" cy="185.96" r="1.85"/>
<circle cx="546.09" cy="184.49" r="1.85"/>
<circle cx="546.53" cy="188.41" r="1.85"/>
<circle cx="546.96" cy="183.67" r="1.85"/>
<circle cx="547.4" cy="183.06" r="1.85"/>
<circle cx="547.83" cy="181.28" r="1.85"/>
<circle cx="548.27" cy="187.21" r="1.85"/>
<circle cx="548.7" cy="184.31" r="1.85"/>
<circle cx="549.14" cy="186.44" r="1.85"/>
<circle cx="549.58" cy="183.77" r="1.85"/>
<circle cx="550.01" cy="189.44" r="1.85"/>
<circle cx="550.45" cy="187.38" r="1.85"/>
<circle cx="550.88" cy="186.08" r="1.85"/>
<circle cx="551.32" cy="182.22" r="1.85"/>
<circle cx="551.75" cy="189.63" r="1.85"/>
<circle cx="552.19" cy="184.09" r="1.85"/>
<circle cx="552.63" cy="185.81" r="1.85"/>
<circle cx="553.06" cy="184.9" r="1.85"/>
<circle cx="553.5" cy="187.06" r="1.85"/>
<circle cx="553.93" cy="189.37" r="1.85"/>
<circle cx="554.37" cy="183.27" r="1.85"/>
<circle cx="554.8" cy="188.85" r="1.85"/>
<circle cx="555.24" cy="186.39" r="1.85"/>
<circle cx="555.68" cy="189.44" r="1.85"/>
<circle cx="556.11" cy="186.82" r="1.85"/>
<circle cx="556.55" cy="185.08" r="1.85"/>
<circle cx="556.98" cy="187.34" r="1.85"/>
<circle cx="557.42" cy="189.72" r="1.85"/>
<circle cx="557.85" cy="188.81" r="1.85"/>
<circle cx="558.29" cy="187.88" r="1.85"/>
<circle cx="558.73" cy="192.12" r="1.85"/>
<circle cx="559.16" cy="187.72" r="1.85"/>
<circle cx="559.6" cy="188.75" r="1.85"/>
<circle cx="560.03" cy="189.89" r="1.85"/>
<circle cx="560.47" cy="188.08" r="1.85"/>
<circle cx="560.9" cy="188.43" r="1.85"/>
<circle cx="561.34" cy="189.85" r="1.85"/>
<circle cx="561.78" cy="190.72" r="1.85"/>
<circle cx="562.21" cy="192" r="1.85"/>
<circle cx="562.65" cy="190.23" r="1.85"/>
<circle cx="563.08" cy="188.06" r="1.85"/>
<circle cx="563.52" cy="190.84" r="1.85"/>
<circle cx="563.95" cy="190.92" r="1.85"/>
<circle cx="564.39" cy="195.84" r="1.85"/>
<circle cx="564.83" cy="196.8" r="1.85"/>
<circle cx="565.26" cy="192.17" r="1.85"/>
<circle cx="565.7" cy="195.17" r="1.85"/>
<circle cx="566.13" cy="191.37" r="1.85"/>
<circle cx="566.57" cy="194.47" r="1.85"/>
<circle cx="567" cy="194.24" r="1.85"/>
<circle cx="567.44" cy="192.81" r="1.85"/>
<circle cx="567.88" cy="194.39" r="1.85"/>
<circle cx="568.31" cy="198.37" r="1.85"/>
<circle cx="568.75" cy="190.07" r="1.85"/>
<circle cx="569.18" cy="193.54" r="1.85"/>
<circle cx="569.62" cy="191.66" r="1.85"/>
<circle cx="570.05" cy="193.82" r="1.85"/>
<circle cx="570.49" cy="193.19" r="1.85"/>
<circle cx="570.93" cy="192.57" r="1.85"/>
<circle cx="571.36" cy="190.72" r="1.85"/>
<circle cx="571.8" cy="191.33" r="1.85"/>
<circle cx="572.23" cy="195.87" r="1.85"/>
<circle cx="572.67" cy="191.11" r="1.85"/>
<circle cx="573.1" cy="192.34" r="1.85"/>
<circle cx="573.54" cy="193.02" r="1.85"/>
<circle cx="573.98" cy="191.07" r="1.85"/>
<circle cx="574.41" cy="197.9" r="1.85"/>
<circle cx="574.85" cy="193.15" r="1.85"/>
<circle cx="575.28" cy="194.12" r="1.85"/>
<circle cx="575.72" cy="192.54" r="1.85"/>
<circle cx="576.15" cy="193.43" r="1.85"/>
<circle cx="576.59" cy="192.68" r="1.85"/>
<circle cx="577.03" cy="197.43" r="1.85"/>
<circle cx="577.46" cy="192.94" r="1.85"/>
<circle cx="577.9" cy="198.21" r="1.85"/>
<circle cx="578.33" cy="195.58" r="1.85"/>
<circle cx="578.77" cy="196.37" r="1.85"/>
<circle cx="579.21" cy="194.12" r="1.85"/>
<circle cx="579.64" cy="195.9" r="1.85"/>
<circle cx="580.08" cy="194.47" r="1.85"/>
<circle cx="580.51" cy="194.25" r="1.85"/>
<circle cx="580.95" cy="196.08" r="1.85"/>
<circle cx="581.38" cy="193.49" r="1.85"/>
<circle cx="581.82" cy="194.99" r="1.85"/>
<circle cx="582.26" cy="199.75" r="1.85"/>
<circle cx="582.69" cy="197.99" r="1.85"/>
<circle cx="583.13" cy="197.78" r="1.85"/>
<circle cx="583.56" cy="196.62" r="1.85"/>
<circle cx="584" cy="197.73" r="1.85"/>
<circle cx="584.43" cy="195.85" r="1.85"/>
<circle cx="584.87" cy="198.58" r="1.85"/>
<circle cx="585.31" cy="195.73" r="1.85"/>
<circle cx="585.74" cy="196.97" r="1.85"/>
<circle cx="586.18" cy="201.72" r="1.85"/>
<circle cx="586.61" cy="198.68" r="1.85"/>
<circle cx="587.05" cy="200.1" r="1.85"/>
<circle cx="587.48" cy="197.36" r="1.85"/>
<circle cx="587.92" cy="195.43" r="1.85"/>
<circle cx="588.36" cy="201.92" r="1.85"/>
<circle cx="588.79" cy="199.44" r="1.85"/>
<circle cx="589.23" cy="193.79" r="1.85"/>
<circle cx="589.66" cy="201.39" r="1.85"/>
<circle cx="590.1" cy="197.44" r="1.85"/>
<circle cx="590.53" cy="202.99" r="1.85"/>
<circle cx="590.97" cy="199.03" r="1.85"/>
<circle cx="591.41" cy="199.41" r="1.85"/>
<circle cx="591.84" cy="201.29" r="1.85"/>
<circle cx="592.28" cy="200.99" r="1.85"/>
<circle cx="592.71" cy="196.34" r="1.85"/>
<circle cx="593.15" cy="198.43" r="1.85"/>
<circle cx="593.58" cy="194.97" r="1.85"/>
<circle cx="594.02" cy="199.79" r="1.85"/>
<circle cx="594.46" cy="198.87" r="1.85"/>
<circle cx="594.89" cy="194.86" r="1.85"/>
<circle cx="595.33" cy="193.74" r="1.85"/>
<circle cx="595.76" cy="196.24" r="1.85"/>
<circle cx="596.2" cy="197.21" r="1.85"/>
<circle cx="596.63" cy="196.93" r="1.85"/>
<circle cx="597.07" cy="198.67" r="1.85"/>
<circle cx="597.51" cy="193.94" r="1.85"/>
<circle cx="597.94" cy="196.83" r="1.85"/>
<circle cx="598.38" cy="201.04" r="1.85"/>
<circle cx="598.81" cy="196.85" r="1.85"/>
<circle cx="599.25" cy="200.94" r="1.85"/>
<circle cx="599.68" cy="200.5" r="1.85"/>
<circle cx="600.12" cy="200.01" r="1.85"/>
<circle cx="600.56" cy="203.31" r="1.85"/>
<circle cx="600.99" cy="200.2" r="1.85"/>
<circle cx="601.43" cy="196.8" r="1.85"/>
<circle cx="601.86" cy="203.58" r="1.85"/>
<circle cx="602.3" cy="204.91" r="1.85"/>
<circle cx="602.73" cy="201.84" r="1.85"/>
<circle cx="603.17" cy="201.91" r="1.85"/>
<circle cx="603.61" cy="197.99" r="1.85"/>
<circle cx="604.04" cy="202.65" r="1.85"/>
<circle cx="604.48" cy="195.77" r="1.85"/>
<circle cx="604.91" cy="202.2" r="1.85"/>
<circle cx="605.35" cy="198.7" r="1.85"/>
<circle cx="605.78" cy="194.93" r="1.85"/>
<circle cx="606.22" cy="196.42" r="1.85"/>
<circle cx="606.66" cy="197.39" r="1.85"/>
<circle cx="607.09" cy="199.72" r="1.85"/>
<circle cx="607.53" cy="199.14" r="1.85"/>
<circle cx="607.96" cy="201.59" r="1.85"/>
<circle cx="608.4" cy="196.23" r="1.85"/>
<circle cx="608.83" cy="201.13" r="1.85"/>
<circle cx="609.27" cy="201.03" r="1.85"/>
<circle cx="609.71" cy="200.59" r="1.85"/>
<circle cx="610.14" cy="200.79" r="1.85"/>
<circle cx="610.58" cy="201.83" r="1.85"/>
<circle cx="611.01" cy="200.84" r="1.85"/>
<circle cx="611.45" cy="201.39" r="1.85"/>
<circle cx="611.88" cy="199.39" r="1.85"/>
<circle cx="612.32" cy="199.28" r="1.85"/>
<circle cx="612.76" cy="201.22" r="1.85"/>
<circle cx="613.19" cy="201.39" r="1.85"/>
<circle cx="613.63" cy="206.31" r="1.85"/>
<circle cx="614.06" cy="200.77" r="1.85"/>
<circle cx="614.5" cy="202.35" r="1.85"/>
<circle cx="614.93" cy="202.75" r="1.85"/>
<circle cx="615.37" cy="198.27" r="1.85"/>
<circle cx="615.81" cy="201.75" r="1.85"/>
<circle cx="616.24" cy="200.18" r="1.85"/>
<circle cx="616.68" cy="196.42" r="1.85"/>
<circle cx="617.11" cy="197.84" r="1.85"/>
<circle cx="617.55" cy="199.31" r="1.85"/>
<circle cx="617.98" cy="199.9" r="1.85"/>
<circle cx="618.42" cy="198.75" r="1.85"/>
<circle cx="618.86" cy="204.5" r="1.85"/>
<circle cx="619.29" cy="196.46" r="1.85"/>
<circle cx="619.73" cy="197.94" r="1.85"/>
<circle cx="620.16" cy="194.86" r="1.85"/>
<circle cx="620.6" cy="195.91" r="1.85"/>
<circle cx="621.03" cy="196.44" r="1.85"/>
<circle cx="621.47" cy="192.38" r="1.85"/>
<circle cx="621.91" cy="197.07" r="1.85"/>
<circle cx="622.34" cy="197.3" r="1.85"/>
<circle cx="622.78" cy="197.42" r="1.85"/>
<circle cx="623.21" cy="193.11" r="1.85"/>
<circle cx="623.65" cy="198.05" r="1.85"/>
<circle cx="624.08" cy="204.71" r="1.85"/>
<circle cx="624.52" cy="199.44" r="1.85"/>
<circle cx="624.96" cy="199.78" r="1.85"/>
<circle cx="625.39" cy="198.45" r="1.85"/>
<circle cx="625.83" cy="200.31" r="1.85"/>
<circle cx="626.26" cy="202.45" r="1.85"/>
<circle cx="626.7" cy="203.48" r="1.85"/>
<circle cx="627.13" cy="201.84" r="1.85"/>
<circle cx="627.57" cy="200.85" r="1.85"/>
<circle cx="628.01" cy="198.87" r="1.85"/>
<circle cx="628.44" cy="199.03" r="1.85"/>
<circle cx="628.88" cy="203.5" r="1.85"/>
<circle cx="629.31" cy="203.75" r="1.85"/>
<circle cx="629.75" cy="202.73" r="1.85"/>
<circle cx="630.18" cy="208.36" r="1.85"/>
<circle cx="630.62" cy="200.1" r="1.85"/>
<circle cx="631.06" cy="205.22" r="1.85"/>
<circle cx="631.49" cy="202.47" r="1.85"/>
<circle cx="631.93" cy="205.24" r="1.85"/>
<circle cx="632.36" cy="202.33" r="1.85"/>
<circle cx="632.8" cy="201.78" r="1.85"/>
<circle cx="633.24" cy="203.89" r="1.85"/>
<circle cx="633.67" cy="200.99" r="1.85"/>
<circle cx="634.11" cy="202.39" r="1.85"/>
<circle cx="634.54" cy="200.39" r="1.85"/>
<circle cx="634.98" cy="203.88" r="1.85"/>
<circle cx="635.41" cy="202.55" r="1.85"/>
<circle cx="635.85" cy="201.86" r="1.85"/>
<circle cx="636.29" cy="203.89" r="1.85"/>
<circle cx="636.72" cy="206.91" r="1.85"/>
<circle cx="637.16" cy="201.31" r="1.85"/>
<circle cx="637.59" cy="202.63" r="1.85"/>
<circle cx="638.03" cy="201.46" r="1.85"/>
<circle cx="638.46" cy="204.83" r="1.85"/>
<circle cx="638.9" cy="200.86" r="1.85"/>
<circle cx="639.34" cy="200.96" r="1.85"/>
<circle cx="639.77" cy="202.57" r="1.85"/>
<circle cx="640.21" cy="200.57" r="1.85"/>
<circle cx="640.64" cy="207.91" r="1.85"/>
<circle cx="641.08" cy="205.47" r="1.85"/>
<circle cx="641.51" cy="206.23" r="1.85"/>
<circle cx="641.95" cy="207.28" r="1.85"/>
<circle cx="642.39" cy="206.1" r="1.85"/>
<circle cx="642.82" cy="205.22" r="1.85"/>
<circle cx="643.26" cy="202.56" r="1.85"/>
<circle cx="643.69" cy="206.19" r="1.85"/>
<circle cx="644.13" cy="205.53" r="1.85"/>
<circle cx="644.56" cy="207.82" r="1.85"/>
<circle cx="645" cy="203.58" r="1.85"/>
<circle cx="645.44" cy="209.31" r="1.85"/>
<circle cx="645.87" cy="209.81" r="1.85"/>
<circle cx="646.31" cy="206.91" r="1.85"/>
<circle cx="646.74" cy="203.15" r="1.85"/>
<circle cx="647.18" cy="207.75" r="1.85"/>
<circle cx="647.61" cy="207.29" r="1.85"/>
<circle cx="648.05" cy="203.45" r="1.85"/>
<circle cx="648.49" cy="209.05" r="1.85"/>
<circle cx="648.92" cy="208.57" r="1.85"/>
<circle cx="649.36" cy="210.4" r="1.85"/>
<circle cx="649.79" cy="212.06" r="1.85"/>
<circle cx="650.23" cy="209.44" r="1.85"/>
<circle cx="650.66" cy="210.83" r="1.85"/>
<circle cx="651.1" cy="209.55" r="1.85"/>
<circle cx="651.54" cy="203.93" r="1.85"/>
<circle cx="651.97" cy="208.92" r="1.85"/>
<circle cx="652.41" cy="208.34" r="1.85"/>
<circle cx="652.84" cy="203.84" r="1.85"/>
<circle cx="653.28" cy="206.13" r="1.85"/>
<circle cx="653.71" cy="202.46" r="1.85"/>
<circle cx="654.15" cy="203.64" r="1.85"/>
<circle cx="654.59" cy="205.23" r="1.85"/>
<circle cx="655.02" cy="200.5" r="1.85"/>
<circle cx="655.46" cy="203" r="1.85"/>
<circle cx="655.89" cy="205.76" r="1.85"/>
<circle cx="656.33" cy="206.78" r="1.85"/>
<circle cx="656.76" cy="199.2" r="1.85"/>
<circle cx="657.2" cy="205.45" r="1.85"/>
</g>
<path d="M396.2,23.07 L397.07,28.3 L397.95,33.39 L398.82,38.34 L399.69,43.14 L400.56,47.8 L401.44,52.33 L402.31,56.73 L403.18,61 L404.06,65.15 L404.93,69.18 L405.8,73.09 L406.67,76.89 L407.55,80.58 L408.42,84.17 L409.29,87.65 L410.17,91.03 L411.04,94.32 L411.91,97.51 L412.79,100.61 L413.66,103.62 L414.53,106.54 L415.4,109.38 L416.28,112.13 L417.15,114.81 L418.02,117.41 L418.9,119.94 L419.77,122.39 L420.64,124.78 L421.51,127.09 L422.39,129.34 L423.26,131.52 L424.13,133.64 L425.01,135.7 L425.88,137.7 L426.75,139.64 L427.62,141.53 L428.5,143.36 L429.37,145.14 L430.24,146.87 L431.12,148.55 L431.99,150.18 L432.86,151.76 L433.74,153.3 L434.61,154.8 L435.48,156.25 L436.35,157.66 L437.23,159.02 L438.1,160.35 L438.97,161.64 L439.85,162.9 L440.72,164.12 L441.59,165.3 L442.46,166.45 L443.34,167.56 L444.21,168.65 L445.08,169.7 L445.96,170.72 L446.83,171.71 L447.7,172.68 L448.57,173.62 L449.45,174.53 L450.32,175.41 L451.19,176.27 L452.07,177.1 L452.94,177.91 L453.81,178.7 L454.68,179.46 L455.56,180.2 L456.43,180.92 L457.3,181.62 L458.18,182.3 L459.05,182.96 L459.92,183.6 L460.8,184.22 L461.67,184.83 L462.54,185.41 L463.41,185.98 L464.29,186.54 L465.16,187.08 L466.03,187.6 L466.91,188.11 L467.78,188.6 L468.65,189.08 L469.52,189.54 L470.4,189.99 L471.27,190.43 L472.14,190.86 L473.02,191.27 L473.89,191.67 L474.76,192.06 L475.63,192.44 L476.51,192.81 L477.38,193.17 L478.25,193.52 L479.13,193.85 L480,194.18 L480.87,194.5 L481.75,194.81 L482.62,195.11 L483.49,195.4 L484.36,195.68 L485.24,195.96 L486.11,196.22 L486.98,196.48 L487.86,196.74 L488.73,196.98 L489.6,197.22 L490.47,197.45 L491.35,197.67 L492.22,197.89 L493.09,198.1 L493.97,198.31 L494.84,198.51 L495.71,198.7 L496.58,198.89 L497.46,199.07 L498.33,199.25 L499.2,199.42 L500.08,199.59 L500.95,199.75 L501.82,199.91 L502.69,200.06 L503.57,200.21 L504.44,200.36 L505.31,200.5 L506.19,200.63 L507.06,200.76 L507.93,200.89 L508.81,201.02 L509.68,201.14 L510.55,201.26 L511.42,201.37 L512.3,201.48 L513.17,201.59 L514.04,201.7 L514.92,201.8 L515.79,201.9 L516.66,201.99 L517.53,202.09 L518.41,202.18 L519.28,202.27 L520.15,202.35 L521.03,202.43 L521.9,202.51 L522.77,202.59 L523.64,202.67 L524.52,202.74 L525.39,202.82 L526.26,202.88 L527.14,202.95 L528.01,203.02 L528.88,203.08 L529.76,203.14 L530.63,203.2 L531.5,203.26 L532.37,203.32 L533.25,203.38 L534.12,203.43 L534.99,203.48 L535.87,203.53 L536.74,203.58 L537.61,203.63 L538.48,203.67 L539.36,203.72 L540.23,203.76 L541.1,203.81 L541.98,203.85 L542.85,203.89 L543.72,203.93 L544.59,203.96 L545.47,204 L546.34,204.04 L547.21,204.07 L548.09,204.1 L548.96,204.14 L549.83,204.17 L550.71,204.2 L551.58,204.23 L552.45,204.26 L553.32,204.29 L554.2,204.31 L555.07,204.34 L555.94,204.37 L556.82,204.39 L557.69,204.42 L558.56,204.44 L559.43,204.46 L560.31,204.49 L561.18,204.51 L562.05,204.53 L562.93,204.55 L563.8,204.57 L564.67,204.59 L565.54,204.61 L566.42,204.62 L567.29,204.64 L568.16,204.66 L569.04,204.68 L569.91,204.69 L570.78,204.71 L571.65,204.72 L572.53,204.74 L573.4,204.75 L574.27,204.77 L575.15,204.78 L576.02,204.79 L576.89,204.81 L577.77,204.82 L578.64,204.83 L579.51,204.84 L580.38,204.85 L581.26,204.87 L582.13,204.88 L583,204.89 L583.88,204.9 L584.75,204.91 L585.62,204.92 L586.49,204.93 L587.37,204.93 L588.24,204.94 L589.11,204.95 L589.99,204.96 L590.86,204.97 L591.73,204.98 L592.6,204.98 L593.48,204.99 L594.35,205 L595.22,205.01 L596.1,205.01 L596.97,205.02 L597.84,205.02 L598.72,205.03 L599.59,205.04 L600.46,205.04 L601.33,205.05 L602.21,205.05 L603.08,205.06 L603.95,205.06 L604.83,205.07 L605.7,205.07 L606.57,205.08 L607.44,205.08 L608.32,205.09 L609.19,205.09 L610.06,205.1 L610.94,205.1 L611.81,205.11 L612.68,205.11 L613.55,205.11 L614.43,205.12 L615.3,205.12 L616.17,205.12 L617.05,205.13 L617.92,205.13 L618.79,205.13 L619.66,205.14 L620.54,205.14 L621.41,205.14 L622.28,205.14 L623.16,205.15 L624.03,205.15 L624.9,205.15 L625.78,205.16 L626.65,205.16 L627.52,205.16 L628.39,205.16 L629.27,205.16 L630.14,205.17 L631.01,205.17 L631.89,205.17 L632.76,205.17 L633.63,205.17 L634.5,205.18 L635.38,205.18 L636.25,205.18 L637.12,205.18 L638,205.18 L638.87,205.19 L639.74,205.19 L640.61,205.19 L641.49,205.19 L642.36,205.19 L643.23,205.19 L644.11,205.19 L644.98,205.2 L645.85,205.2 L646.73,205.2 L647.6,205.2 L648.47,205.2 L649.34,205.2 L650.22,205.2 L651.09,205.2 L651.96,205.2 L652.84,205.21 L653.71,205.21 L654.58,205.21 L655.45,205.21 L656.33,205.21 L657.2,205.21" fill="none" stroke="#3E6DA3" stroke-width="1.9"/>
<path d="M396.2,31.68 L397.07,33.9 L397.95,36.1 L398.82,38.27 L399.69,40.41 L400.56,42.53 L401.44,44.62 L402.31,46.68 L403.18,48.71 L404.06,50.72 L404.93,52.71 L405.8,54.67 L406.67,56.6 L407.55,58.51 L408.42,60.39 L409.29,62.26 L410.17,64.09 L411.04,65.91 L411.91,67.7 L412.79,69.47 L413.66,71.21 L414.53,72.94 L415.4,74.64 L416.28,76.32 L417.15,77.98 L418.02,79.61 L418.9,81.23 L419.77,82.83 L420.64,84.4 L421.51,85.96 L422.39,87.49 L423.26,89.01 L424.13,90.51 L425.01,91.98 L425.88,93.44 L426.75,94.88 L427.62,96.31 L428.5,97.71 L429.37,99.1 L430.24,100.46 L431.12,101.82 L431.99,103.15 L432.86,104.47 L433.74,105.77 L434.61,107.05 L435.48,108.32 L436.35,109.57 L437.23,110.81 L438.1,112.03 L438.97,113.23 L439.85,114.42 L440.72,115.59 L441.59,116.75 L442.46,117.9 L443.34,119.02 L444.21,120.14 L445.08,121.24 L445.96,122.33 L446.83,123.4 L447.7,124.46 L448.57,125.51 L449.45,126.54 L450.32,127.56 L451.19,128.57 L452.07,129.56 L452.94,130.54 L453.81,131.51 L454.68,132.47 L455.56,133.41 L456.43,134.34 L457.3,135.26 L458.18,136.17 L459.05,137.07 L459.92,137.95 L460.8,138.83 L461.67,139.69 L462.54,140.54 L463.41,141.38 L464.29,142.21 L465.16,143.03 L466.03,143.84 L466.91,144.64 L467.78,145.43 L468.65,146.21 L469.52,146.98 L470.4,147.74 L471.27,148.49 L472.14,149.23 L473.02,149.96 L473.89,150.68 L474.76,151.4 L475.63,152.1 L476.51,152.79 L477.38,153.48 L478.25,154.16 L479.13,154.82 L480,155.48 L480.87,156.13 L481.75,156.78 L482.62,157.41 L483.49,158.04 L484.36,158.66 L485.24,159.27 L486.11,159.87 L486.98,160.47 L487.86,161.06 L488.73,161.64 L489.6,162.21 L490.47,162.77 L491.35,163.33 L492.22,163.88 L493.09,164.43 L493.97,164.97 L494.84,165.5 L495.71,166.02 L496.58,166.54 L497.46,167.05 L498.33,167.55 L499.2,168.05 L500.08,168.54 L500.95,169.03 L501.82,169.51 L502.69,169.98 L503.57,170.45 L504.44,170.91 L505.31,171.36 L506.19,171.81 L507.06,172.25 L507.93,172.69 L508.81,173.13 L509.68,173.55 L510.55,173.97 L511.42,174.39 L512.3,174.8 L513.17,175.21 L514.04,175.61 L514.92,176 L515.79,176.39 L516.66,176.78 L517.53,177.16 L518.41,177.53 L519.28,177.9 L520.15,178.27 L521.03,178.63 L521.9,178.99 L522.77,179.34 L523.64,179.69 L524.52,180.03 L525.39,180.37 L526.26,180.7 L527.14,181.04 L528.01,181.36 L528.88,181.68 L529.76,182 L530.63,182.32 L531.5,182.63 L532.37,182.93 L533.25,183.23 L534.12,183.53 L534.99,183.83 L535.87,184.12 L536.74,184.4 L537.61,184.69 L538.48,184.97 L539.36,185.24 L540.23,185.52 L541.1,185.78 L541.98,186.05 L542.85,186.31 L543.72,186.57 L544.59,186.83 L545.47,187.08 L546.34,187.33 L547.21,187.58 L548.09,187.82 L548.96,188.06 L549.83,188.3 L550.71,188.53 L551.58,188.76 L552.45,188.99 L553.32,189.21 L554.2,189.44 L555.07,189.65 L555.94,189.87 L556.82,190.09 L557.69,190.3 L558.56,190.5 L559.43,190.71 L560.31,190.91 L561.18,191.11 L562.05,191.31 L562.93,191.51 L563.8,191.7 L564.67,191.89 L565.54,192.08 L566.42,192.26 L567.29,192.45 L568.16,192.63 L569.04,192.81 L569.91,192.98 L570.78,193.16 L571.65,193.33 L572.53,193.5 L573.4,193.67 L574.27,193.83 L575.15,194 L576.02,194.16 L576.89,194.32 L577.77,194.47 L578.64,194.63 L579.51,194.78 L580.38,194.93 L581.26,195.08 L582.13,195.23 L583,195.38 L583.88,195.52 L584.75,195.66 L585.62,195.8 L586.49,195.94 L587.37,196.08 L588.24,196.21 L589.11,196.35 L589.99,196.48 L590.86,196.61 L591.73,196.73 L592.6,196.86 L593.48,196.99 L594.35,197.11 L595.22,197.23 L596.1,197.35 L596.97,197.47 L597.84,197.59 L598.72,197.7 L599.59,197.82 L600.46,197.93 L601.33,198.04 L602.21,198.15 L603.08,198.26 L603.95,198.37 L604.83,198.47 L605.7,198.58 L606.57,198.68 L607.44,198.78 L608.32,198.88 L609.19,198.98 L610.06,199.08 L610.94,199.17 L611.81,199.27 L612.68,199.36 L613.55,199.46 L614.43,199.55 L615.3,199.64 L616.17,199.73 L617.05,199.82 L617.92,199.91 L618.79,199.99 L619.66,200.08 L620.54,200.16 L621.41,200.24 L622.28,200.32 L623.16,200.41 L624.03,200.49 L624.9,200.56 L625.78,200.64 L626.65,200.72 L627.52,200.79 L628.39,200.87 L629.27,200.94 L630.14,201.02 L631.01,201.09 L631.89,201.16 L632.76,201.23 L633.63,201.3 L634.5,201.37 L635.38,201.43 L636.25,201.5 L637.12,201.57 L638,201.63 L638.87,201.7 L639.74,201.76 L640.61,201.82 L641.49,201.88 L642.36,201.94 L643.23,202 L644.11,202.06 L644.98,202.12 L645.85,202.18 L646.73,202.24 L647.6,202.29 L648.47,202.35 L649.34,202.41 L650.22,202.46 L651.09,202.51 L651.96,202.57 L652.84,202.62 L653.71,202.67 L654.58,202.72 L655.45,202.77 L656.33,202.82 L657.2,202.87" fill="none" stroke="#F1434D" stroke-width="1.9"/>
</g>
<rect x="396.2" y="17.2" width="261" height="210.4" fill="none" stroke="#333" stroke-width="1.1"/>
<line x1="392.2" y1="210" x2="396.2" y2="210" stroke="#333" stroke-width="1.1"/>
<text transform="translate(389,214.15) scale(1,1.08)" font-size="11.9" text-anchor="end" fill="#1a1a1a" >0.0</text>
<line x1="392.2" y1="175" x2="396.2" y2="175" stroke="#333" stroke-width="1.1"/>
<text transform="translate(389,179.15) scale(1,1.08)" font-size="11.9" text-anchor="end" fill="#1a1a1a" >0.2</text>
<line x1="392.2" y1="140" x2="396.2" y2="140" stroke="#333" stroke-width="1.1"/>
<text transform="translate(389,144.15) scale(1,1.08)" font-size="11.9" text-anchor="end" fill="#1a1a1a" >0.4</text>
<line x1="392.2" y1="105" x2="396.2" y2="105" stroke="#333" stroke-width="1.1"/>
<text transform="translate(389,109.15) scale(1,1.08)" font-size="11.9" text-anchor="end" fill="#1a1a1a" >0.6</text>
<line x1="392.2" y1="70" x2="396.2" y2="70" stroke="#333" stroke-width="1.1"/>
<text transform="translate(389,74.15) scale(1,1.08)" font-size="11.9" text-anchor="end" fill="#1a1a1a" >0.8</text>
<line x1="392.2" y1="35" x2="396.2" y2="35" stroke="#333" stroke-width="1.1"/>
<text transform="translate(389,39.15) scale(1,1.08)" font-size="11.9" text-anchor="end" fill="#1a1a1a" >1.0</text>
<line x1="394.2" y1="227.5" x2="396.2" y2="227.5" stroke="#333" stroke-width="1.1"/>
<line x1="394.2" y1="192.5" x2="396.2" y2="192.5" stroke="#333" stroke-width="1.1"/>
<line x1="394.2" y1="157.5" x2="396.2" y2="157.5" stroke="#333" stroke-width="1.1"/>
<line x1="394.2" y1="122.5" x2="396.2" y2="122.5" stroke="#333" stroke-width="1.1"/>
<line x1="394.2" y1="87.5" x2="396.2" y2="87.5" stroke="#333" stroke-width="1.1"/>
<line x1="394.2" y1="52.5" x2="396.2" y2="52.5" stroke="#333" stroke-width="1.1"/>
<line x1="394.2" y1="17.5" x2="396.2" y2="17.5" stroke="#333" stroke-width="1.1"/>
<line x1="396.2" y1="227.6" x2="396.2" y2="231.1" stroke="#333" stroke-width="1.1"/>
<text transform="translate(396.2,244.65) scale(1,1.08)" font-size="11.9" text-anchor="middle" fill="#1a1a1a" >0</text>
<line x1="422.3" y1="227.6" x2="422.3" y2="231.1" stroke="#333" stroke-width="1.1"/>
<text transform="translate(422.3,244.65) scale(1,1.08)" font-size="11.9" text-anchor="middle" fill="#1a1a1a" >5</text>
<line x1="448.4" y1="227.6" x2="448.4" y2="231.1" stroke="#333" stroke-width="1.1"/>
<text transform="translate(448.4,244.65) scale(1,1.08)" font-size="11.9" text-anchor="middle" fill="#1a1a1a" >10</text>
<line x1="474.5" y1="227.6" x2="474.5" y2="231.1" stroke="#333" stroke-width="1.1"/>
<text transform="translate(474.5,244.65) scale(1,1.08)" font-size="11.9" text-anchor="middle" fill="#1a1a1a" >15</text>
<line x1="500.6" y1="227.6" x2="500.6" y2="231.1" stroke="#333" stroke-width="1.1"/>
<text transform="translate(500.6,244.65) scale(1,1.08)" font-size="11.9" text-anchor="middle" fill="#1a1a1a" >20</text>
<line x1="526.7" y1="227.6" x2="526.7" y2="231.1" stroke="#333" stroke-width="1.1"/>
<text transform="translate(526.7,244.65) scale(1,1.08)" font-size="11.9" text-anchor="middle" fill="#1a1a1a" >25</text>
<line x1="552.8" y1="227.6" x2="552.8" y2="231.1" stroke="#333" stroke-width="1.1"/>
<text transform="translate(552.8,244.65) scale(1,1.08)" font-size="11.9" text-anchor="middle" fill="#1a1a1a" >30</text>
<line x1="578.9" y1="227.6" x2="578.9" y2="231.1" stroke="#333" stroke-width="1.1"/>
<text transform="translate(578.9,244.65) scale(1,1.08)" font-size="11.9" text-anchor="middle" fill="#1a1a1a" >35</text>
<line x1="605" y1="227.6" x2="605" y2="231.1" stroke="#333" stroke-width="1.1"/>
<text transform="translate(605,244.65) scale(1,1.08)" font-size="11.9" text-anchor="middle" fill="#1a1a1a" >40</text>
<line x1="631.1" y1="227.6" x2="631.1" y2="231.1" stroke="#333" stroke-width="1.1"/>
<text transform="translate(631.1,244.65) scale(1,1.08)" font-size="11.9" text-anchor="middle" fill="#1a1a1a" >45</text>
<line x1="657.2" y1="227.6" x2="657.2" y2="231.1" stroke="#333" stroke-width="1.1"/>
<text transform="translate(657.2,244.65) scale(1,1.08)" font-size="11.9" text-anchor="middle" fill="#1a1a1a" >50</text>
<line x1="409.25" y1="227.6" x2="409.25" y2="229.6" stroke="#333" stroke-width="1.1"/>
<line x1="435.35" y1="227.6" x2="435.35" y2="229.6" stroke="#333" stroke-width="1.1"/>
<line x1="461.45" y1="227.6" x2="461.45" y2="229.6" stroke="#333" stroke-width="1.1"/>
<line x1="487.55" y1="227.6" x2="487.55" y2="229.6" stroke="#333" stroke-width="1.1"/>
<line x1="513.65" y1="227.6" x2="513.65" y2="229.6" stroke="#333" stroke-width="1.1"/>
<line x1="539.75" y1="227.6" x2="539.75" y2="229.6" stroke="#333" stroke-width="1.1"/>
<line x1="565.85" y1="227.6" x2="565.85" y2="229.6" stroke="#333" stroke-width="1.1"/>
<line x1="591.95" y1="227.6" x2="591.95" y2="229.6" stroke="#333" stroke-width="1.1"/>
<line x1="618.05" y1="227.6" x2="618.05" y2="229.6" stroke="#333" stroke-width="1.1"/>
<line x1="644.15" y1="227.6" x2="644.15" y2="229.6" stroke="#333" stroke-width="1.1"/>
<text x="526.7" y="267.2" font-size="14" text-anchor="middle" fill="#1a1a1a" >Times (μs)</text>
<text transform="translate(364.6,116.1) rotate(-90)" font-size="14" text-anchor="middle" fill="#1a1a1a">Normalized photovoltage</text>
<circle cx="602.4" cy="26.9" r="2.05" fill="url(#gBb)"/>
<circle cx="602.5" cy="40.2" r="2.05" fill="url(#gRb)"/>
<text x="617.8" y="30.5" font-size="10.9" text-anchor="start" fill="#1a1a1a" >Control</text>
<text x="617.8" y="44.1" font-size="10.9" text-anchor="start" fill="#1a1a1a" >Target</text>
<text x="426.3" y="199.9" font-size="11.9" text-anchor="start" fill="#1a1a1a" >5.9 μs</text>
<text x="501.6" y="162.3" font-size="11.9" text-anchor="start" fill="#1a1a1a" >12.9 μs</text>
<g clip-path="url(#clipC2)">
<g fill="url(#gB)">
<circle cx="63.8" cy="404.5" r="2.5"/>
<circle cx="65.7" cy="407.7" r="2.5"/>
<circle cx="68.1" cy="401.6" r="2.5"/>
<circle cx="70.6" cy="405.3" r="2.5"/>
<circle cx="73" cy="403.4" r="2.5"/>
<circle cx="74.3" cy="410.2" r="2.5"/>
<circle cx="76.7" cy="399.7" r="2.5"/>
<circle cx="79.8" cy="407.7" r="2.5"/>
<circle cx="81.6" cy="400.4" r="2.5"/>
<circle cx="84.1" cy="399.7" r="2.5"/>
<circle cx="85.3" cy="407.1" r="2.5"/>
<circle cx="88.4" cy="403.4" r="2.5"/>
<circle cx="90.8" cy="402.2" r="2.5"/>
<circle cx="93.3" cy="401" r="2.5"/>
<circle cx="95.1" cy="399.1" r="2.5"/>
<circle cx="96.9" cy="407.1" r="2.5"/>
<circle cx="99.4" cy="400.4" r="2.5"/>
<circle cx="101.8" cy="401.6" r="2.5"/>
<circle cx="103.61" cy="391.63" r="2.5"/>
<circle cx="105.85" cy="384.17" r="2.5"/>
<circle cx="108.14" cy="376.61" r="2.5"/>
<circle cx="110.48" cy="368.93" r="2.5"/>
<circle cx="112.86" cy="361.17" r="2.5"/>
<circle cx="115.29" cy="353.28" r="2.5"/>
<circle cx="117.78" cy="345.23" r="2.5"/>
<circle cx="120.31" cy="336.66" r="2.5"/>
<circle cx="122.9" cy="328.13" r="2.5"/>
<circle cx="125.54" cy="321.04" r="2.5"/>
<circle cx="128.24" cy="315.87" r="2.5"/>
<circle cx="131.01" cy="312.55" r="2.5"/>
<circle cx="133.83" cy="310.26" r="2.5"/>
<circle cx="136.71" cy="308.48" r="2.5"/>
<circle cx="139.67" cy="306.49" r="2.5"/>
<circle cx="142.69" cy="304.11" r="2.5"/>
<circle cx="145.78" cy="302.14" r="2.5"/>
<circle cx="148.94" cy="300.68" r="2.5"/>
<circle cx="152.18" cy="299.42" r="2.5"/>
<circle cx="155.49" cy="298.22" r="2.5"/>
<circle cx="158.89" cy="297.04" r="2.5"/>
<circle cx="162.37" cy="295.93" r="2.5"/>
<circle cx="165.94" cy="294.94" r="2.5"/>
<circle cx="169.59" cy="294.05" r="2.5"/>
<circle cx="173.35" cy="293.25" r="2.5"/>
<circle cx="177.19" cy="292.6" r="2.5"/>
<circle cx="181.14" cy="292.17" r="2.5"/>
<circle cx="185.2" cy="291.83" r="2.5"/>
<circle cx="189.37" cy="291.33" r="2.5"/>
<circle cx="193.64" cy="290.26" r="2.5"/>
<circle cx="198.04" cy="289.25" r="2.5"/>
<circle cx="202.56" cy="288.64" r="2.5"/>
<circle cx="207.22" cy="288.18" r="2.5"/>
<circle cx="212" cy="287.9" r="2.5"/>
<circle cx="216.93" cy="287.69" r="2.5"/>
<circle cx="222" cy="287.52" r="2.5"/>
<circle cx="227.23" cy="287.42" r="2.5"/>
<circle cx="232.62" cy="287.4" r="2.5"/>
<circle cx="238.18" cy="287.4" r="2.5"/>
<circle cx="243.91" cy="287.4" r="2.5"/>
<circle cx="249.83" cy="287.4" r="2.5"/>
<circle cx="255.94" cy="287.4" r="2.5"/>
<circle cx="262.26" cy="287.6" r="2.5"/>
<circle cx="268.79" cy="287.95" r="2.5"/>
<circle cx="275.54" cy="288.16" r="2.5"/>
<circle cx="282.54" cy="288.32" r="2.5"/>
<circle cx="289.78" cy="288.49" r="2.5"/>
<circle cx="297.28" cy="288.7" r="2.5"/>
<circle cx="305.07" cy="288.92" r="2.5"/>
<circle cx="313.14" cy="289.15" r="2.5"/>
<circle cx="321.53" cy="289.41" r="2.5"/>
</g>
<g fill="url(#gR)">
<circle cx="63.8" cy="468.3" r="2.5"/>
<circle cx="65.3" cy="457" r="2.5"/>
<circle cx="67.2" cy="457" r="2.5"/>
<circle cx="67.9" cy="464.5" r="2.5"/>
<circle cx="69.8" cy="457.4" r="2.5"/>
<circle cx="71" cy="461.9" r="2.5"/>
<circle cx="73.2" cy="460.8" r="2.5"/>
<circle cx="75.1" cy="462.7" r="2.5"/>
<circle cx="76.2" cy="465.7" r="2.5"/>
<circle cx="77.7" cy="459.6" r="2.5"/>
<circle cx="79.6" cy="456.2" r="2.5"/>
<circle cx="81.5" cy="465.3" r="2.5"/>
<circle cx="83.8" cy="464.5" r="2.5"/>
<circle cx="84.9" cy="455.9" r="2.5"/>
<circle cx="87.2" cy="456.6" r="2.5"/>
<circle cx="89.1" cy="458.9" r="2.5"/>
<circle cx="90.6" cy="466.8" r="2.5"/>
<circle cx="92.9" cy="457.4" r="2.5"/>
<circle cx="95.06" cy="432.42" r="2.5"/>
<circle cx="97.13" cy="424.83" r="2.5"/>
<circle cx="99.25" cy="417.1" r="2.5"/>
<circle cx="101.41" cy="409.22" r="2.5"/>
<circle cx="103.61" cy="401.21" r="2.5"/>
<circle cx="105.85" cy="393.05" r="2.5"/>
<circle cx="108.14" cy="384.74" r="2.5"/>
<circle cx="110.48" cy="376.26" r="2.5"/>
<circle cx="112.86" cy="367.44" r="2.5"/>
<circle cx="115.29" cy="358.33" r="2.5"/>
<circle cx="117.78" cy="349.12" r="2.5"/>
<circle cx="120.31" cy="340.02" r="2.5"/>
<circle cx="122.9" cy="331.29" r="2.5"/>
<circle cx="125.54" cy="323.2" r="2.5"/>
<circle cx="128.24" cy="317.01" r="2.5"/>
<circle cx="131.01" cy="311.49" r="2.5"/>
<circle cx="133.83" cy="305.75" r="2.5"/>
<circle cx="136.71" cy="301.22" r="2.5"/>
<circle cx="139.67" cy="296.84" r="2.5"/>
<circle cx="142.69" cy="293.66" r="2.5"/>
<circle cx="145.78" cy="291.32" r="2.5"/>
<circle cx="148.94" cy="289.62" r="2.5"/>
<circle cx="152.18" cy="289.14" r="2.5"/>
<circle cx="155.49" cy="288.57" r="2.5"/>
<circle cx="158.89" cy="288.13" r="2.5"/>
<circle cx="162.37" cy="287.9" r="2.5"/>
<circle cx="165.94" cy="287.9" r="2.5"/>
<circle cx="169.59" cy="287.9" r="2.5"/>
<circle cx="173.35" cy="287.9" r="2.5"/>
<circle cx="177.19" cy="287.9" r="2.5"/>
<circle cx="181.14" cy="285.6" r="2.5"/>
<circle cx="185.2" cy="285.61" r="2.5"/>
<circle cx="189.37" cy="285.64" r="2.5"/>
<circle cx="193.64" cy="285.67" r="2.5"/>
<circle cx="198.04" cy="285.71" r="2.5"/>
<circle cx="202.56" cy="285.76" r="2.5"/>
<circle cx="207.22" cy="285.84" r="2.5"/>
<circle cx="212" cy="285.92" r="2.5"/>
<circle cx="216.93" cy="285.98" r="2.5"/>
<circle cx="222" cy="286" r="2.5"/>
<circle cx="227.23" cy="285.68" r="2.5"/>
<circle cx="232.62" cy="285.04" r="2.5"/>
<circle cx="238.18" cy="284.54" r="2.5"/>
<circle cx="243.91" cy="284.5" r="2.5"/>
<circle cx="249.83" cy="284.51" r="2.5"/>
<circle cx="255.94" cy="284.53" r="2.5"/>
<circle cx="262.26" cy="284.56" r="2.5"/>
<circle cx="268.79" cy="284.6" r="2.5"/>
<circle cx="275.54" cy="284.64" r="2.5"/>
<circle cx="282.54" cy="284.7" r="2.5"/>
<circle cx="289.78" cy="284.8" r="2.5"/>
<circle cx="297.28" cy="285.01" r="2.5"/>
<circle cx="305.07" cy="285.7" r="2.5"/>
<circle cx="313.14" cy="286.27" r="2.5"/>
<circle cx="321.53" cy="286.76" r="2.5"/>
</g>
<g fill="url(#gY)">
<circle cx="65.1" cy="366.6" r="2.5"/>
<circle cx="67.5" cy="373.4" r="2.5"/>
<circle cx="66.3" cy="375.8" r="2.5"/>
<circle cx="69.4" cy="367.9" r="2.5"/>
<circle cx="71.2" cy="370.3" r="2.5"/>
<circle cx="73" cy="374.6" r="2.5"/>
<circle cx="74.3" cy="370.9" r="2.5"/>
<circle cx="76.1" cy="374.6" r="2.5"/>
<circle cx="77.9" cy="363.6" r="2.5"/>
<circle cx="80.4" cy="364.8" r="2.5"/>
<circle cx="82.8" cy="366.6" r="2.5"/>
<circle cx="85.3" cy="367.3" r="2.5"/>
<circle cx="87.1" cy="374.6" r="2.5"/>
<circle cx="90.2" cy="369.1" r="2.5"/>
<circle cx="92.6" cy="373.4" r="2.5"/>
<circle cx="95.1" cy="364.2" r="2.5"/>
<circle cx="97.6" cy="366" r="2.5"/>
<circle cx="100" cy="369.1" r="2.5"/>
<circle cx="102.5" cy="370.3" r="2.5"/>
<circle cx="105.5" cy="374" r="2.5"/>
<circle cx="108" cy="364.2" r="2.5"/>
<circle cx="110.4" cy="370.3" r="2.5"/>
<circle cx="113.5" cy="370.9" r="2.5"/>
<circle cx="117.8" cy="374.6" r="2.5"/>
<circle cx="120.2" cy="368.5" r="2.5"/>
<circle cx="123.3" cy="367.3" r="2.5"/>
<circle cx="125.7" cy="367.1" r="2.5"/>
<circle cx="128.7" cy="366" r="2.5"/>
<circle cx="130.9" cy="371.7" r="2.5"/>
<circle cx="133.9" cy="372.1" r="2.5"/>
<circle cx="136.8" cy="371" r="2.5"/>
<circle cx="139.7" cy="375.2" r="2.5"/>
<circle cx="142.7" cy="368.4" r="2.5"/>
<circle cx="145.8" cy="371.7" r="2.5"/>
<circle cx="148.9" cy="366.8" r="2.5"/>
<circle cx="152.3" cy="375.2" r="2.5"/>
<circle cx="155.5" cy="370" r="2.5"/>
<circle cx="159.2" cy="369.7" r="2.5"/>
<circle cx="162.4" cy="373" r="2.5"/>
<circle cx="165.7" cy="369.7" r="2.5"/>
<circle cx="169.7" cy="374.3" r="2.5"/>
<circle cx="173.4" cy="366" r="2.5"/>
<circle cx="177.3" cy="367.1" r="2.5"/>
<circle cx="181.2" cy="373.4" r="2.5"/>
<circle cx="185.2" cy="369.1" r="2.5"/>
<circle cx="189.1" cy="371.3" r="2.5"/>
<circle cx="193.3" cy="370" r="2.5"/>
<circle cx="197.9" cy="366" r="2.5"/>
<circle cx="202.5" cy="369.4" r="2.5"/>
<circle cx="207.1" cy="365.5" r="2.5"/>
<circle cx="211.8" cy="341.6" r="2.5"/>
<circle cx="216.6" cy="317.7" r="2.5"/>
<circle cx="221.8" cy="297.7" r="2.5"/>
<circle cx="226.9" cy="286.2" r="2.5"/>
<circle cx="232.6" cy="283.4" r="2.5"/>
<circle cx="237.9" cy="283" r="2.5"/>
<circle cx="243.5" cy="283" r="2.5"/>
<circle cx="249.2" cy="283.7" r="2.5"/>
<circle cx="255.8" cy="284.7" r="2.5"/>
<circle cx="262" cy="285.7" r="2.5"/>
<circle cx="268.7" cy="286.4" r="2.5"/>
<circle cx="275.3" cy="287.8" r="2.5"/>
<circle cx="282.5" cy="287.8" r="2.5"/>
<circle cx="289.6" cy="286.7" r="2.5"/>
<circle cx="297" cy="286.7" r="2.5"/>
<circle cx="305" cy="287.8" r="2.5"/>
<circle cx="312.9" cy="288.3" r="2.5"/>
<circle cx="321.3" cy="288.8" r="2.5"/>
</g>
<line x1="102.5" y1="394.3" x2="125.2" y2="320.8" stroke="#3C6AA0" stroke-width="1.5"/>
<line x1="94.9" y1="433" x2="123.3" y2="330.2" stroke="#F2161E" stroke-width="1.9"/>
<line x1="207.6" y1="365.9" x2="222.2" y2="297.6" stroke="#EBC232" stroke-width="1.5"/>
</g>
<g fill="url(#gB)">
<circle cx="218.2" cy="442.3" r="2.5"/>
</g>
<g fill="url(#gR)">
<circle cx="218.2" cy="458.2" r="2.5"/>
</g>
<g fill="url(#gY)">
<circle cx="218.2" cy="473.6" r="2.5"/>
</g>
<rect x="63.4" y="277.8" width="261" height="210.8" fill="none" stroke="#333" stroke-width="1.1"/>
<line x1="59.4" y1="488.6" x2="63.4" y2="488.6" stroke="#333" stroke-width="1.1"/>
<text transform="translate(56.4,493.55) scale(1,1.08)" font-size="11" text-anchor="end" fill="#1a1a1a" >10<tspan font-size="7.6" dy="-4.9">-4</tspan></text>
<line x1="61.4" y1="478.02" x2="63.4" y2="478.02" stroke="#333" stroke-width="1.1"/>
<line x1="61.4" y1="471.84" x2="63.4" y2="471.84" stroke="#333" stroke-width="1.1"/>
<line x1="61.4" y1="467.45" x2="63.4" y2="467.45" stroke="#333" stroke-width="1.1"/>
<line x1="61.4" y1="464.04" x2="63.4" y2="464.04" stroke="#333" stroke-width="1.1"/>
<line x1="61.4" y1="461.26" x2="63.4" y2="461.26" stroke="#333" stroke-width="1.1"/>
<line x1="61.4" y1="458.91" x2="63.4" y2="458.91" stroke="#333" stroke-width="1.1"/>
<line x1="61.4" y1="456.87" x2="63.4" y2="456.87" stroke="#333" stroke-width="1.1"/>
<line x1="61.4" y1="455.07" x2="63.4" y2="455.07" stroke="#333" stroke-width="1.1"/>
<line x1="59.4" y1="453.47" x2="63.4" y2="453.47" stroke="#333" stroke-width="1.1"/>
<text transform="translate(56.4,458.42) scale(1,1.08)" font-size="11" text-anchor="end" fill="#1a1a1a" >10<tspan font-size="7.6" dy="-4.9">-3</tspan></text>
<line x1="61.4" y1="442.89" x2="63.4" y2="442.89" stroke="#333" stroke-width="1.1"/>
<line x1="61.4" y1="436.7" x2="63.4" y2="436.7" stroke="#333" stroke-width="1.1"/>
<line x1="61.4" y1="432.31" x2="63.4" y2="432.31" stroke="#333" stroke-width="1.1"/>
<line x1="61.4" y1="428.91" x2="63.4" y2="428.91" stroke="#333" stroke-width="1.1"/>
<line x1="61.4" y1="426.13" x2="63.4" y2="426.13" stroke="#333" stroke-width="1.1"/>
<line x1="61.4" y1="423.78" x2="63.4" y2="423.78" stroke="#333" stroke-width="1.1"/>
<line x1="61.4" y1="421.74" x2="63.4" y2="421.74" stroke="#333" stroke-width="1.1"/>
<line x1="61.4" y1="419.94" x2="63.4" y2="419.94" stroke="#333" stroke-width="1.1"/>
<line x1="59.4" y1="418.33" x2="63.4" y2="418.33" stroke="#333" stroke-width="1.1"/>
<text transform="translate(56.4,423.28) scale(1,1.08)" font-size="11" text-anchor="end" fill="#1a1a1a" >10<tspan font-size="7.6" dy="-4.9">-2</tspan></text>
<line x1="61.4" y1="407.76" x2="63.4" y2="407.76" stroke="#333" stroke-width="1.1"/>
<line x1="61.4" y1="401.57" x2="63.4" y2="401.57" stroke="#333" stroke-width="1.1"/>
<line x1="61.4" y1="397.18" x2="63.4" y2="397.18" stroke="#333" stroke-width="1.1"/>
<line x1="61.4" y1="393.78" x2="63.4" y2="393.78" stroke="#333" stroke-width="1.1"/>
<line x1="61.4" y1="390.99" x2="63.4" y2="390.99" stroke="#333" stroke-width="1.1"/>
<line x1="61.4" y1="388.64" x2="63.4" y2="388.64" stroke="#333" stroke-width="1.1"/>
<line x1="61.4" y1="386.6" x2="63.4" y2="386.6" stroke="#333" stroke-width="1.1"/>
<line x1="61.4" y1="384.81" x2="63.4" y2="384.81" stroke="#333" stroke-width="1.1"/>
<line x1="59.4" y1="383.2" x2="63.4" y2="383.2" stroke="#333" stroke-width="1.1"/>
<text transform="translate(56.4,388.15) scale(1,1.08)" font-size="11" text-anchor="end" fill="#1a1a1a" >10<tspan font-size="7.6" dy="-4.9">-1</tspan></text>
<line x1="61.4" y1="372.62" x2="63.4" y2="372.62" stroke="#333" stroke-width="1.1"/>
<line x1="61.4" y1="366.44" x2="63.4" y2="366.44" stroke="#333" stroke-width="1.1"/>
<line x1="61.4" y1="362.05" x2="63.4" y2="362.05" stroke="#333" stroke-width="1.1"/>
<line x1="61.4" y1="358.64" x2="63.4" y2="358.64" stroke="#333" stroke-width="1.1"/>
<line x1="61.4" y1="355.86" x2="63.4" y2="355.86" stroke="#333" stroke-width="1.1"/>
<line x1="61.4" y1="353.51" x2="63.4" y2="353.51" stroke="#333" stroke-width="1.1"/>
<line x1="61.4" y1="351.47" x2="63.4" y2="351.47" stroke="#333" stroke-width="1.1"/>
<line x1="61.4" y1="349.67" x2="63.4" y2="349.67" stroke="#333" stroke-width="1.1"/>
<line x1="59.4" y1="348.07" x2="63.4" y2="348.07" stroke="#333" stroke-width="1.1"/>
<text transform="translate(56.4,353.02) scale(1,1.08)" font-size="11" text-anchor="end" fill="#1a1a1a" >10<tspan font-size="7.6" dy="-4.9">0</tspan></text>
<line x1="61.4" y1="337.49" x2="63.4" y2="337.49" stroke="#333" stroke-width="1.1"/>
<line x1="61.4" y1="331.3" x2="63.4" y2="331.3" stroke="#333" stroke-width="1.1"/>
<line x1="61.4" y1="326.91" x2="63.4" y2="326.91" stroke="#333" stroke-width="1.1"/>
<line x1="61.4" y1="323.51" x2="63.4" y2="323.51" stroke="#333" stroke-width="1.1"/>
<line x1="61.4" y1="320.73" x2="63.4" y2="320.73" stroke="#333" stroke-width="1.1"/>
<line x1="61.4" y1="318.38" x2="63.4" y2="318.38" stroke="#333" stroke-width="1.1"/>
<line x1="61.4" y1="316.34" x2="63.4" y2="316.34" stroke="#333" stroke-width="1.1"/>
<line x1="61.4" y1="314.54" x2="63.4" y2="314.54" stroke="#333" stroke-width="1.1"/>
<line x1="59.4" y1="312.93" x2="63.4" y2="312.93" stroke="#333" stroke-width="1.1"/>
<text transform="translate(56.4,317.88) scale(1,1.08)" font-size="11" text-anchor="end" fill="#1a1a1a" >10<tspan font-size="7.6" dy="-4.9">1</tspan></text>
<line x1="61.4" y1="302.36" x2="63.4" y2="302.36" stroke="#333" stroke-width="1.1"/>
<line x1="61.4" y1="296.17" x2="63.4" y2="296.17" stroke="#333" stroke-width="1.1"/>
<line x1="61.4" y1="291.78" x2="63.4" y2="291.78" stroke="#333" stroke-width="1.1"/>
<line x1="61.4" y1="288.38" x2="63.4" y2="288.38" stroke="#333" stroke-width="1.1"/>
<line x1="61.4" y1="285.59" x2="63.4" y2="285.59" stroke="#333" stroke-width="1.1"/>
<line x1="61.4" y1="283.24" x2="63.4" y2="283.24" stroke="#333" stroke-width="1.1"/>
<line x1="61.4" y1="281.2" x2="63.4" y2="281.2" stroke="#333" stroke-width="1.1"/>
<line x1="61.4" y1="279.41" x2="63.4" y2="279.41" stroke="#333" stroke-width="1.1"/>
<line x1="59.4" y1="277.8" x2="63.4" y2="277.8" stroke="#333" stroke-width="1.1"/>
<text transform="translate(56.4,282.75) scale(1,1.08)" font-size="11" text-anchor="end" fill="#1a1a1a" >10<tspan font-size="7.6" dy="-4.9">2</tspan></text>
<line x1="63.4" y1="488.6" x2="63.4" y2="492.1" stroke="#333" stroke-width="1.1"/>
<text transform="translate(63.4,504.85) scale(1,1.08)" font-size="11" text-anchor="middle" fill="#1a1a1a" >1.0</text>
<line x1="100.69" y1="488.6" x2="100.69" y2="492.1" stroke="#333" stroke-width="1.1"/>
<text transform="translate(100.69,504.85) scale(1,1.08)" font-size="11" text-anchor="middle" fill="#1a1a1a" >1.2</text>
<line x1="137.97" y1="488.6" x2="137.97" y2="492.1" stroke="#333" stroke-width="1.1"/>
<text transform="translate(137.97,504.85) scale(1,1.08)" font-size="11" text-anchor="middle" fill="#1a1a1a" >1.4</text>
<line x1="175.26" y1="488.6" x2="175.26" y2="492.1" stroke="#333" stroke-width="1.1"/>
<text transform="translate(175.26,504.85) scale(1,1.08)" font-size="11" text-anchor="middle" fill="#1a1a1a" >1.6</text>
<line x1="212.54" y1="488.6" x2="212.54" y2="492.1" stroke="#333" stroke-width="1.1"/>
<text transform="translate(212.54,504.85) scale(1,1.08)" font-size="11" text-anchor="middle" fill="#1a1a1a" >1.8</text>
<line x1="249.83" y1="488.6" x2="249.83" y2="492.1" stroke="#333" stroke-width="1.1"/>
<text transform="translate(249.83,504.85) scale(1,1.08)" font-size="11" text-anchor="middle" fill="#1a1a1a" >2.0</text>
<line x1="287.11" y1="488.6" x2="287.11" y2="492.1" stroke="#333" stroke-width="1.1"/>
<text transform="translate(287.11,504.85) scale(1,1.08)" font-size="11" text-anchor="middle" fill="#1a1a1a" >2.2</text>
<line x1="324.4" y1="488.6" x2="324.4" y2="492.1" stroke="#333" stroke-width="1.1"/>
<text transform="translate(324.4,504.85) scale(1,1.08)" font-size="11" text-anchor="middle" fill="#1a1a1a" >2.4</text>
<line x1="82.04" y1="488.6" x2="82.04" y2="490.6" stroke="#333" stroke-width="1.1"/>
<line x1="119.33" y1="488.6" x2="119.33" y2="490.6" stroke="#333" stroke-width="1.1"/>
<line x1="156.61" y1="488.6" x2="156.61" y2="490.6" stroke="#333" stroke-width="1.1"/>
<line x1="193.9" y1="488.6" x2="193.9" y2="490.6" stroke="#333" stroke-width="1.1"/>
<line x1="231.19" y1="488.6" x2="231.19" y2="490.6" stroke="#333" stroke-width="1.1"/>
<line x1="268.47" y1="488.6" x2="268.47" y2="490.6" stroke="#333" stroke-width="1.1"/>
<line x1="305.76" y1="488.6" x2="305.76" y2="490.6" stroke="#333" stroke-width="1.1"/>
<text x="194.6" y="526.5" font-size="14" text-anchor="middle" fill="#1a1a1a" >Photon energy (eV)</text>
<text transform="translate(20.5,374.6) rotate(-90)" font-size="14" text-anchor="middle" fill="#1a1a1a">EQE<tspan font-size="9.5" dy="4">FTPS</tspan><tspan dy="-4"> (%)</tspan></text>
<text x="126.8" y="343" font-size="10.9" text-anchor="start" fill="#4775AA" >Eu=24.6 meV</text>
<text x="104.6" y="420.5" font-size="10.9" text-anchor="start" fill="#F0262E" >Eu=22.3 meV</text>
<text x="219" y="333.7" font-size="10.9" text-anchor="start" fill="#EAC23A" >Eu=17.8 meV</text>
<text x="203" y="427.6" font-size="11" text-anchor="start" fill="#1a1a1a" >Single-junction subcells:</text>
<text x="233.3" y="446.3" font-size="11" text-anchor="start" fill="#1a1a1a" >OSC<tspan font-size="7.5" dy="3.2">Control</tspan></text>
<text x="233.3" y="462.2" font-size="11" text-anchor="start" fill="#1a1a1a" >OSC<tspan font-size="7.5" dy="3.2">Target</tspan></text>
<text x="233.3" y="478.1" font-size="11" text-anchor="start" fill="#1a1a1a" >PSC</text>
<rect x="402.45" y="417.07" width="14" height="75.13" fill="#93B8DE" stroke="#3a3a3a" stroke-width="0.85"/>
<rect x="416.45" y="459.31" width="14" height="32.89" fill="#B4B4D5" stroke="#3a3a3a" stroke-width="0.85"/>
<rect x="430.45" y="434.27" width="14" height="57.93" fill="#A9EEC2" stroke="#3a3a3a" stroke-width="0.85"/>
<rect x="454.55" y="417.07" width="14" height="75.13" fill="#93B8DE" stroke="#3a3a3a" stroke-width="0.85"/>
<rect x="468.55" y="444.23" width="14" height="47.97" fill="#B4B4D5" stroke="#3a3a3a" stroke-width="0.85"/>
<rect x="482.55" y="458.71" width="14" height="33.49" fill="#A9EEC2" stroke="#3a3a3a" stroke-width="0.85"/>
<rect x="506.65" y="405.31" width="14" height="86.89" fill="#93B8DE" stroke="#3a3a3a" stroke-width="0.85"/>
<rect x="520.65" y="445.13" width="14" height="47.07" fill="#B4B4D5" stroke="#3a3a3a" stroke-width="0.85"/>
<rect x="534.65" y="478.62" width="14" height="13.58" fill="#A9EEC2" stroke="#3a3a3a" stroke-width="0.85"/>
<rect x="558.75" y="326.86" width="14" height="165.34" fill="#93B8DE" stroke="#3a3a3a" stroke-width="0.85"/>
<rect x="572.75" y="415.56" width="14" height="76.64" fill="#B4B4D5" stroke="#3a3a3a" stroke-width="0.85"/>
<rect x="586.75" y="422.81" width="14" height="69.39" fill="#A9EEC2" stroke="#3a3a3a" stroke-width="0.85"/>
<rect x="586.75" y="405" width="14" height="17.8" fill="#F1E08A" stroke="#3a3a3a" stroke-width="0.85"/>
<rect x="610.85" y="326.86" width="14" height="165.34" fill="#93B8DE" stroke="#3a3a3a" stroke-width="0.85"/>
<rect x="624.85" y="393.54" width="14" height="98.66" fill="#B4B4D5" stroke="#3a3a3a" stroke-width="0.85"/>
<rect x="638.85" y="447.24" width="14" height="44.96" fill="#A9EEC2" stroke="#3a3a3a" stroke-width="0.85"/>
<rect x="638.85" y="443.93" width="14" height="3.32" fill="#F1E08A" stroke="#3a3a3a" stroke-width="0.85"/>
<rect x="397.3" y="281" width="260.5" height="211.2" fill="none" stroke="#333" stroke-width="1.1"/>
<line x1="393.3" y1="492.2" x2="397.3" y2="492.2" stroke="#333" stroke-width="1.1"/>
<text transform="translate(390,496.35) scale(1,1.08)" font-size="11.9" text-anchor="end" fill="#1a1a1a" >0.0</text>
<line x1="393.3" y1="431.86" x2="397.3" y2="431.86" stroke="#333" stroke-width="1.1"/>
<text transform="translate(390,436.01) scale(1,1.08)" font-size="11.9" text-anchor="end" fill="#1a1a1a" >0.2</text>
<line x1="393.3" y1="371.51" x2="397.3" y2="371.51" stroke="#333" stroke-width="1.1"/>
<text transform="translate(390,375.66) scale(1,1.08)" font-size="11.9" text-anchor="end" fill="#1a1a1a" >0.4</text>
<line x1="393.3" y1="311.17" x2="397.3" y2="311.17" stroke="#333" stroke-width="1.1"/>
<text transform="translate(390,315.32) scale(1,1.08)" font-size="11.9" text-anchor="end" fill="#1a1a1a" >0.6</text>
<line x1="395.3" y1="462.03" x2="397.3" y2="462.03" stroke="#333" stroke-width="1.1"/>
<line x1="395.3" y1="401.69" x2="397.3" y2="401.69" stroke="#333" stroke-width="1.1"/>
<line x1="395.3" y1="341.34" x2="397.3" y2="341.34" stroke="#333" stroke-width="1.1"/>
<line x1="423.45" y1="492.2" x2="423.45" y2="496.2" stroke="#333" stroke-width="1.1"/>
<line x1="475.55" y1="492.2" x2="475.55" y2="496.2" stroke="#333" stroke-width="1.1"/>
<line x1="527.65" y1="492.2" x2="527.65" y2="496.2" stroke="#333" stroke-width="1.1"/>
<line x1="579.75" y1="492.2" x2="579.75" y2="496.2" stroke="#333" stroke-width="1.1"/>
<line x1="631.85" y1="492.2" x2="631.85" y2="496.2" stroke="#333" stroke-width="1.1"/>
<line x1="449.5" y1="492.2" x2="449.5" y2="494.4" stroke="#333" stroke-width="1.1"/>
<line x1="501.6" y1="492.2" x2="501.6" y2="494.4" stroke="#333" stroke-width="1.1"/>
<line x1="553.7" y1="492.2" x2="553.7" y2="494.4" stroke="#333" stroke-width="1.1"/>
<line x1="605.8" y1="492.2" x2="605.8" y2="494.4" stroke="#333" stroke-width="1.1"/>
<line x1="397.3" y1="492.2" x2="397.3" y2="494.2" stroke="#333" stroke-width="1.1"/>
<text x="397.5" y="508.4" font-size="11" text-anchor="start" fill="#1a1a1a" >OSC<tspan font-size="7.5" dy="2.6">Control</tspan></text>
<text x="454.3" y="508.4" font-size="11" text-anchor="start" fill="#1a1a1a" >OSC<tspan font-size="7.5" dy="2.6">Target</tspan></text>
<text x="514.5" y="508.6" font-size="11" text-anchor="start" fill="#1a1a1a" >PSC</text>
<text x="555.4" y="508.4" font-size="11" text-anchor="start" fill="#1a1a1a" >Tandem<tspan font-size="7.5" dy="2.6">Control</tspan></text>
<text x="623.5" y="508.4" font-size="11" text-anchor="start" fill="#1a1a1a" >Tandem<tspan font-size="7.5" dy="2.6">Target</tspan></text>
<text x="526.7" y="267.2" font-size="14" text-anchor="start" fill="#1a1a1a" ></text>
<text transform="translate(364.3,385.6) rotate(-90)" font-size="13.2" text-anchor="middle" fill="#1a1a1a">V<tspan font-size="9.5" dy="5">oc, loss</tspan><tspan dy="-5"> (V)</tspan></text>
<rect x="408.4" y="287.4" width="24.2" height="12.1" fill="#93B8DE" stroke="#333" stroke-width="0.9"/>
<rect x="408.4" y="304.1" width="24.2" height="12.1" fill="#B4B4D5" stroke="#333" stroke-width="0.9"/>
<rect x="408.4" y="320.2" width="24.2" height="12.1" fill="#A9EEC2" stroke="#333" stroke-width="0.9"/>
<rect x="408.4" y="336.2" width="24.2" height="12.1" fill="#F1E08A" stroke="#333" stroke-width="0.9"/>
<text x="435.8" y="297.4" font-size="10.5" fill="#1a1a1a">Δ<tspan font-style="italic">E</tspan><tspan font-size="7.5" dy="2.8">1</tspan></text>
<text x="435.8" y="314.1" font-size="10.5" fill="#1a1a1a">Δ<tspan font-style="italic">E</tspan><tspan font-size="7.5" dy="2.8">2</tspan></text>
<text x="435.8" y="330.2" font-size="10.5" fill="#1a1a1a">Δ<tspan font-style="italic">E</tspan><tspan font-size="7.5" dy="2.8">3</tspan></text>
<text x="453.2" y="325.7" font-size="7.5" fill="#1a1a1a">subcell</text>
<text x="435.8" y="346.2" font-size="10.5" fill="#1a1a1a">Δ<tspan font-style="italic">E</tspan><tspan font-size="7.5" dy="2.8">3</tspan></text>
<text x="453.2" y="341.7" font-size="7.5" fill="#1a1a1a">ICL</text>
<text x="4.2" y="13.8" font-size="17.6" fill="#111">a</text>
<text x="338.2" y="13.7" font-size="17.6" fill="#111">b</text>
<text x="0.4" y="274.8" font-size="17.6" fill="#111">c</text>
<text x="338.3" y="274.7" font-size="17.6" fill="#111">d</text>
</svg></body></html>
